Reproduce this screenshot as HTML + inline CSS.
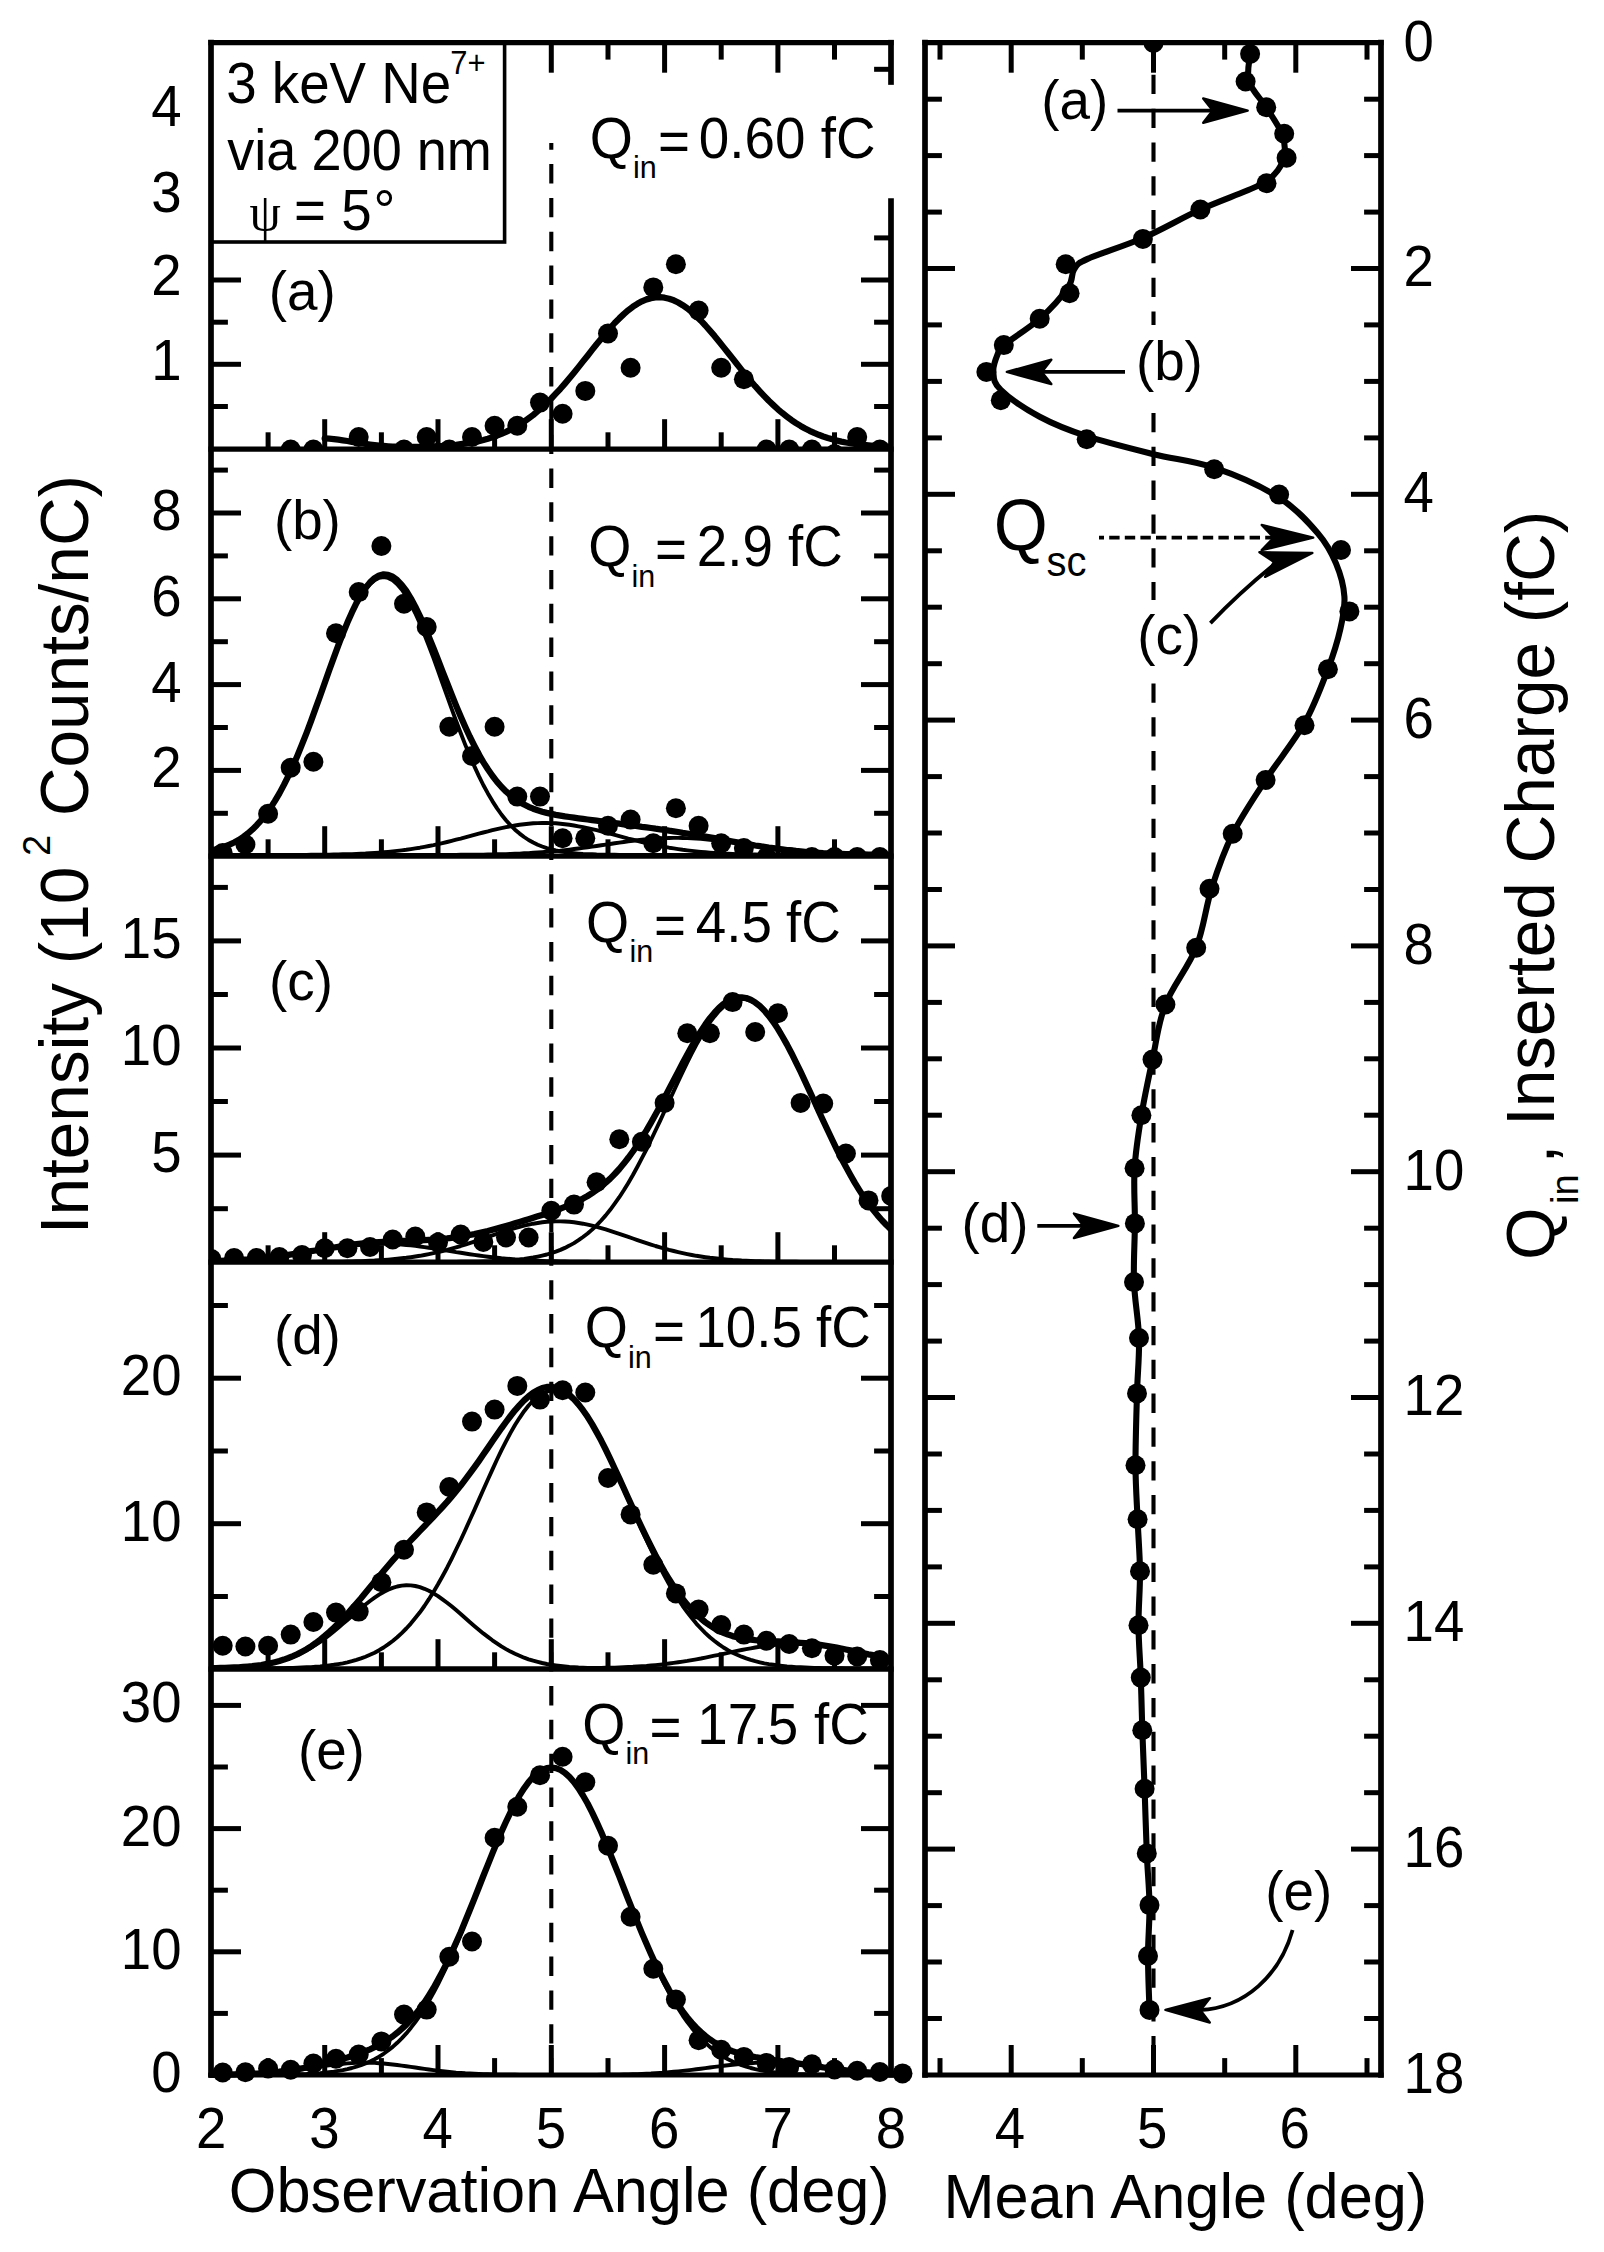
<!DOCTYPE html>
<html lang="en"><head><meta charset="utf-8"><title>Figure</title>
<style>html,body{margin:0;padding:0;background:#fff}svg{display:block}text{font-family:"Liberation Sans",Arial,Helvetica,sans-serif;fill:#000}.s{font-family:"Liberation Serif","DejaVu Serif",serif}</style></head><body>
<svg width="1604" height="2252" viewBox="0 0 1604 2252">
<rect width="1604" height="2252" fill="#fff"/>
<defs>
<clipPath id="cpa"><rect x="211" y="42.7" width="680" height="407.5"/></clipPath>
<clipPath id="cpb"><rect x="211" y="449.2" width="680" height="408"/></clipPath>
<clipPath id="cpc"><rect x="211" y="856.2" width="680" height="407"/></clipPath>
<clipPath id="cpd"><rect x="211" y="1262.2" width="680" height="408"/></clipPath>
<clipPath id="cpe"><rect x="181" y="1669.2" width="760" height="450"/></clipPath>
<clipPath id="cpr"><rect x="925" y="42.7" width="456" height="2032.3"/></clipPath>
</defs>
<g clip-path="url(#cpa)" fill="none" stroke="#000" stroke-linejoin="round" stroke-linecap="round">
<polyline stroke-width="6.3" points="324.7,438.4 329.2,438.7 333.8,439.1 338.3,439.7 342.8,440.3 347.4,441 351.9,441.8 356.4,442.5 361,443.2 365.5,443.9 370,444.5 374.6,445.1 379.1,445.6 383.6,446 388.1,446.3 392.7,446.6 397.2,446.7 401.7,446.9 406.3,446.9 410.8,447 415.3,446.9 419.9,446.9 424.4,446.8 428.9,446.6 433.5,446.5 438,446.2 442.5,446 447.1,445.6 451.6,445.2 456.1,444.8 460.7,444.2 465.2,443.6 469.7,442.9 474.3,442 478.8,441.1 483.3,440 487.9,438.7 492.4,437.3 496.9,435.7 501.4,433.9 506,431.9 510.5,429.7 515,427.2 519.6,424.6 524.1,421.6 528.6,418.4 533.2,415 537.7,411.2 542.2,407.2 546.8,403 551.3,398.5 555.8,393.7 560.4,388.8 564.9,383.6 569.4,378.2 574,372.7 578.5,367.1 583,361.4 587.6,355.7 592.1,349.9 596.6,344.2 601.2,338.7 605.7,333.2 610.2,328 614.7,323 619.3,318.4 623.8,314.1 628.3,310.2 632.9,306.7 637.4,303.8 641.9,301.3 646.5,299.4 651,298.1 655.5,297.4 660.1,297.2 664.6,297.7 669.1,298.7 673.7,300.3 678.2,302.5 682.7,305.2 687.3,308.4 691.8,312.1 696.3,316.2 700.9,320.7 705.4,325.5 709.9,330.6 714.5,335.9 719,341.4 723.5,347.1 728,352.8 732.6,358.5 737.1,364.3 741.6,369.9 746.2,375.5 750.7,380.9 755.2,386.2 759.8,391.3 764.3,396.1 768.8,400.8 773.4,405.1 777.9,409.3 782.4,413.1 787,416.7 791.5,420.1 796,423.1 800.6,425.9 805.1,428.5 809.6,430.8 814.2,432.9 818.7,434.8 823.2,436.5 827.8,438 832.3,439.3 836.8,440.5 841.3,441.6 845.9,442.5 850.4,443.2 854.9,443.9 859.5,444.5 864,445 868.5,445.4 873.1,445.8 877.6,446.1 882.1,446.4 886.7,446.6 891.2,446.8"/>
<g fill="#000" stroke="none">
<circle cx="290.7" cy="449.5" r="10.0"/>
<circle cx="313.4" cy="449.5" r="10.0"/>
<circle cx="358.7" cy="437" r="10.0"/>
<circle cx="404" cy="449.5" r="10.0"/>
<circle cx="426.7" cy="437" r="10.0"/>
<circle cx="449.3" cy="449.5" r="10.0"/>
<circle cx="472" cy="437" r="10.0"/>
<circle cx="494.6" cy="425.8" r="10.0"/>
<circle cx="517.3" cy="425.8" r="10.0"/>
<circle cx="540" cy="402.6" r="10.0"/>
<circle cx="562.6" cy="413.8" r="10.0"/>
<circle cx="585.3" cy="390.9" r="10.0"/>
<circle cx="608" cy="333.5" r="10.0"/>
<circle cx="630.6" cy="367.7" r="10.0"/>
<circle cx="653.3" cy="287.4" r="10.0"/>
<circle cx="675.9" cy="264.2" r="10.0"/>
<circle cx="698.6" cy="310.6" r="10.0"/>
<circle cx="721.2" cy="367.7" r="10.0"/>
<circle cx="743.9" cy="379.2" r="10.0"/>
<circle cx="766.6" cy="449.5" r="10.0"/>
<circle cx="789.2" cy="449.5" r="10.0"/>
<circle cx="811.9" cy="449.5" r="10.0"/>
<circle cx="834.5" cy="454" r="10.0"/>
<circle cx="857.2" cy="437" r="10.0"/>
<circle cx="879.9" cy="449.5" r="10.0"/>
</g></g>
<g clip-path="url(#cpb)" fill="none" stroke="#000" stroke-linejoin="round" stroke-linecap="round">
<polyline stroke-width="3.9" points="211.4,850.5 215.9,849.4 220.5,848.1 225,846.5 229.5,844.7 234.1,842.5 238.6,840 243.1,837 247.7,833.6 252.2,829.7 256.7,825.2 261.3,820.2 265.8,814.5 270.3,808.1 274.8,801.1 279.4,793.4 283.9,785 288.4,775.9 293,766.1 297.5,755.6 302,744.6 306.6,733 311.1,721 315.6,708.6 320.2,696 324.7,683.3 329.2,670.6 333.8,658.1 338.3,646 342.8,634.4 347.4,623.4 351.9,613.3 356.4,604.2 361,596.2 365.5,589.5 370,584.2 374.6,580.3 379.1,577.9 383.6,577.1 388.1,577.9 392.7,580.3 397.2,584.2 401.7,589.5 406.3,596.2 410.8,604.2 415.3,613.3 419.9,623.4 424.4,634.4 428.9,646 433.5,658.1 438,670.6 442.5,683.3 447.1,696 451.6,708.6 456.1,721 460.7,733 465.2,744.6 469.7,755.6 474.3,766.1 478.8,775.9 483.3,785 487.9,793.4 492.4,801.1 496.9,808.1 501.4,814.5 506,820.2 510.5,825.2 515,829.7 519.6,833.6 524.1,837 528.6,840 533.2,842.5 537.7,844.7 542.2,846.5 546.8,848.1 551.3,849.4 555.8,850.5 560.4,851.3 564.9,852.1 569.4,852.7 574,853.2 578.5,853.6 583,853.9 587.6,854.1 592.1,854.3 596.6,854.5 601.2,854.6 605.7,854.7 610.2,854.8 614.7,854.8 619.3,854.9 623.8,854.9 628.3,854.9 632.9,854.9 637.4,855 641.9,855 646.5,855 651,855 655.5,855 660.1,855 664.6,855 669.1,855 673.7,855 678.2,855 682.7,855 687.3,855 691.8,855 696.3,855 700.9,855 705.4,855 709.9,855 714.5,855 719,855 723.5,855 728,855 732.6,855 737.1,855 741.6,855 746.2,855 750.7,855 755.2,855 759.8,855 764.3,855 768.8,855 773.4,855 777.9,855 782.4,855 787,855 791.5,855 796,855 800.6,855 805.1,855 809.6,855 814.2,855 818.7,855 823.2,855 827.8,855 832.3,855 836.8,855 841.3,855 845.9,855 850.4,855 854.9,855 859.5,855 864,855 868.5,855 873.1,855 877.6,855 882.1,855 886.7,855 891.2,855"/>
<polyline stroke-width="3.9" points="211.4,855 215.9,855 220.5,855 225,855 229.5,855 234.1,855 238.6,855 243.1,855 247.7,855 252.2,855 256.7,855 261.3,855 265.8,855 270.3,855 274.8,855 279.4,855 283.9,854.9 288.4,854.9 293,854.9 297.5,854.9 302,854.9 306.6,854.9 311.1,854.8 315.6,854.8 320.2,854.7 324.7,854.7 329.2,854.6 333.8,854.5 338.3,854.4 342.8,854.3 347.4,854.2 351.9,854.1 356.4,853.9 361,853.7 365.5,853.5 370,853.2 374.6,852.9 379.1,852.6 383.6,852.3 388.1,851.9 392.7,851.4 397.2,850.9 401.7,850.4 406.3,849.8 410.8,849.1 415.3,848.4 419.9,847.7 424.4,846.9 428.9,846 433.5,845.1 438,844.1 442.5,843.1 447.1,842 451.6,840.9 456.1,839.7 460.7,838.6 465.2,837.4 469.7,836.2 474.3,834.9 478.8,833.7 483.3,832.5 487.9,831.4 492.4,830.2 496.9,829.1 501.4,828.1 506,827.2 510.5,826.3 515,825.5 519.6,824.8 524.1,824.2 528.6,823.7 533.2,823.3 537.7,823.1 542.2,823 546.8,823 551.3,823.1 555.8,823.3 560.4,823.7 564.9,824.2 569.4,824.8 574,825.5 578.5,826.3 583,827.2 587.6,828.1 592.1,829.1 596.6,830.2 601.2,831.4 605.7,832.5 610.2,833.7 614.7,834.9 619.3,836.2 623.8,837.4 628.3,838.6 632.9,839.7 637.4,840.9 641.9,842 646.5,843.1 651,844.1 655.5,845.1 660.1,846 664.6,846.9 669.1,847.7 673.7,848.4 678.2,849.1 682.7,849.8 687.3,850.4 691.8,850.9 696.3,851.4 700.9,851.9 705.4,852.3 709.9,852.6 714.5,852.9 719,853.2 723.5,853.5 728,853.7 732.6,853.9 737.1,854.1 741.6,854.2 746.2,854.3 750.7,854.4 755.2,854.5 759.8,854.6 764.3,854.7 768.8,854.7 773.4,854.8 777.9,854.8 782.4,854.9 787,854.9 791.5,854.9 796,854.9 800.6,854.9 805.1,854.9 809.6,855 814.2,855 818.7,855 823.2,855 827.8,855 832.3,855 836.8,855 841.3,855 845.9,855 850.4,855 854.9,855 859.5,855 864,855 868.5,855 873.1,855 877.6,855 882.1,855 886.7,855 891.2,855"/>
<polyline stroke-width="3.9" points="211.4,855 215.9,855 220.5,855 225,855 229.5,855 234.1,855 238.6,855 243.1,855 247.7,855 252.2,855 256.7,855 261.3,855 265.8,855 270.3,855 274.8,855 279.4,855 283.9,855 288.4,855 293,855 297.5,855 302,855 306.6,855 311.1,855 315.6,855 320.2,855 324.7,855 329.2,855 333.8,855 338.3,855 342.8,855 347.4,855 351.9,855 356.4,855 361,855 365.5,855 370,855 374.6,855 379.1,855 383.6,855 388.1,855 392.7,855 397.2,855 401.7,855 406.3,855 410.8,855 415.3,855 419.9,855 424.4,855 428.9,855 433.5,855 438,854.9 442.5,854.9 447.1,854.9 451.6,854.9 456.1,854.9 460.7,854.8 465.2,854.8 469.7,854.8 474.3,854.7 478.8,854.7 483.3,854.6 487.9,854.5 492.4,854.4 496.9,854.3 501.4,854.2 506,854.1 510.5,853.9 515,853.8 519.6,853.6 524.1,853.3 528.6,853.1 533.2,852.8 537.7,852.5 542.2,852.2 546.8,851.8 551.3,851.5 555.8,851 560.4,850.6 564.9,850.1 569.4,849.6 574,849 578.5,848.5 583,847.9 587.6,847.2 592.1,846.6 596.6,846 601.2,845.3 605.7,844.6 610.2,844 614.7,843.3 619.3,842.6 623.8,842 628.3,841.4 632.9,840.8 637.4,840.3 641.9,839.8 646.5,839.3 651,838.9 655.5,838.6 660.1,838.3 664.6,838.1 669.1,838 673.7,837.9 678.2,837.9 682.7,838 687.3,838.1 691.8,838.3 696.3,838.6 700.9,838.9 705.4,839.3 709.9,839.8 714.5,840.3 719,840.8 723.5,841.4 728,842 732.6,842.6 737.1,843.3 741.6,844 746.2,844.6 750.7,845.3 755.2,846 759.8,846.6 764.3,847.2 768.8,847.9 773.4,848.5 777.9,849 782.4,849.6 787,850.1 791.5,850.6 796,851 800.6,851.5 805.1,851.8 809.6,852.2 814.2,852.5 818.7,852.8 823.2,853.1 827.8,853.3 832.3,853.6 836.8,853.8 841.3,853.9 845.9,854.1 850.4,854.2 854.9,854.3 859.5,854.4 864,854.5 868.5,854.6 873.1,854.7 877.6,854.7 882.1,854.8 886.7,854.8 891.2,854.8"/>
<polyline stroke-width="6.3" points="211.4,850.5 215.9,849.4 220.5,848.1 225,846.5 229.5,844.7 234.1,842.5 238.6,840 243.1,837 247.7,833.6 252.2,829.7 256.7,825.2 261.3,820.1 265.8,814.5 270.3,808.1 274.8,801.1 279.4,793.4 283.9,784.9 288.4,775.8 293,766 297.5,755.5 302,744.4 306.6,732.8 311.1,720.8 315.6,708.4 320.2,695.7 324.7,683 329.2,670.2 333.8,657.7 338.3,645.4 342.8,633.7 347.4,622.6 351.9,612.4 356.4,603.1 361,594.9 365.5,588 370,582.4 374.6,578.2 379.1,575.5 383.6,574.4 388.1,574.8 392.7,576.7 397.2,580.1 401.7,584.9 406.3,591 410.8,598.3 415.3,606.7 419.9,616.1 424.4,626.2 428.9,637 433.5,648.2 438,659.6 442.5,671.3 447.1,682.9 451.6,694.4 456.1,705.6 460.7,716.4 465.2,726.7 469.7,736.5 474.3,745.7 478.8,754.3 483.3,762.1 487.9,769.3 492.4,775.8 496.9,781.6 501.4,786.8 506,791.4 510.5,795.4 515,798.9 519.6,801.9 524.1,804.5 528.6,806.8 533.2,808.7 537.7,810.3 542.2,811.7 546.8,812.9 551.3,813.9 555.8,814.8 560.4,815.6 564.9,816.4 569.4,817 574,817.7 578.5,818.3 583,818.9 587.6,819.5 592.1,820.1 596.6,820.7 601.2,821.3 605.7,821.9 610.2,822.5 614.7,823.1 619.3,823.7 623.8,824.3 628.3,824.9 632.9,825.5 637.4,826.1 641.9,826.8 646.5,827.4 651,828 655.5,828.7 660.1,829.3 664.6,830 669.1,830.7 673.7,831.3 678.2,832 682.7,832.8 687.3,833.5 691.8,834.3 696.3,835 700.9,835.8 705.4,836.6 709.9,837.4 714.5,838.2 719,839.1 723.5,839.9 728,840.7 732.6,841.5 737.1,842.4 741.6,843.2 746.2,844 750.7,844.7 755.2,845.5 759.8,846.2 764.3,846.9 768.8,847.6 773.4,848.2 777.9,848.9 782.4,849.4 787,850 791.5,850.5 796,851 800.6,851.4 805.1,851.8 809.6,852.2 814.2,852.5 818.7,852.8 823.2,853.1 827.8,853.3 832.3,853.6 836.8,853.7 841.3,853.9 845.9,854.1 850.4,854.2 854.9,854.3 859.5,854.4 864,854.5 868.5,854.6 873.1,854.7 877.6,854.7 882.1,854.8 886.7,854.8 891.2,854.8"/>
<g fill="#000" stroke="none">
<circle cx="222.7" cy="853" r="10.0"/>
<circle cx="245.4" cy="844.5" r="10.0"/>
<circle cx="268.1" cy="813.8" r="10.0"/>
<circle cx="290.7" cy="767.7" r="10.0"/>
<circle cx="313.4" cy="761.7" r="10.0"/>
<circle cx="336" cy="633.3" r="10.0"/>
<circle cx="358.7" cy="592.1" r="10.0"/>
<circle cx="381.4" cy="546" r="10.0"/>
<circle cx="404" cy="603.8" r="10.0"/>
<circle cx="426.7" cy="627" r="10.0"/>
<circle cx="449.3" cy="726.8" r="10.0"/>
<circle cx="472" cy="756" r="10.0"/>
<circle cx="494.6" cy="726.8" r="10.0"/>
<circle cx="517.3" cy="796.6" r="10.0"/>
<circle cx="540" cy="796.6" r="10.0"/>
<circle cx="562.6" cy="838.3" r="10.0"/>
<circle cx="585.3" cy="838.3" r="10.0"/>
<circle cx="608" cy="825.8" r="10.0"/>
<circle cx="630.6" cy="819.6" r="10.0"/>
<circle cx="653.3" cy="843.2" r="10.0"/>
<circle cx="675.9" cy="808.3" r="10.0"/>
<circle cx="698.6" cy="825.8" r="10.0"/>
<circle cx="721.2" cy="843.2" r="10.0"/>
<circle cx="743.9" cy="848" r="10.0"/>
<circle cx="766.6" cy="857" r="10.0"/>
<circle cx="789.2" cy="857" r="10.0"/>
<circle cx="811.9" cy="857" r="10.0"/>
<circle cx="834.5" cy="857" r="10.0"/>
<circle cx="857.2" cy="857" r="10.0"/>
<circle cx="879.9" cy="857" r="10.0"/>
</g></g>
<g clip-path="url(#cpc)" fill="none" stroke="#000" stroke-linejoin="round" stroke-linecap="round">
<polyline stroke-width="3.9" points="211.4,1262 215.9,1262 220.5,1262 225,1262 229.5,1262 234.1,1262 238.6,1262 243.1,1262 247.7,1262 252.2,1262 256.7,1262 261.3,1262 265.8,1262 270.3,1262 274.8,1262 279.4,1262 283.9,1262 288.4,1262 293,1262 297.5,1262 302,1262 306.6,1262 311.1,1262 315.6,1262 320.2,1262 324.7,1262 329.2,1262 333.8,1262 338.3,1262 342.8,1262 347.4,1262 351.9,1262 356.4,1262 361,1262 365.5,1262 370,1262 374.6,1262 379.1,1262 383.6,1262 388.1,1262 392.7,1262 397.2,1262 401.7,1262 406.3,1262 410.8,1262 415.3,1262 419.9,1262 424.4,1262 428.9,1262 433.5,1262 438,1262 442.5,1261.9 447.1,1261.9 451.6,1261.9 456.1,1261.9 460.7,1261.8 465.2,1261.8 469.7,1261.7 474.3,1261.7 478.8,1261.6 483.3,1261.5 487.9,1261.4 492.4,1261.2 496.9,1261 501.4,1260.8 506,1260.5 510.5,1260.2 515,1259.8 519.6,1259.4 524.1,1258.9 528.6,1258.2 533.2,1257.5 537.7,1256.6 542.2,1255.6 546.8,1254.5 551.3,1253.1 555.8,1251.6 560.4,1249.9 564.9,1247.9 569.4,1245.6 574,1243.1 578.5,1240.2 583,1237 587.6,1233.5 592.1,1229.6 596.6,1225.3 601.2,1220.5 605.7,1215.4 610.2,1209.8 614.7,1203.7 619.3,1197.2 623.8,1190.3 628.3,1182.9 632.9,1175 637.4,1166.8 641.9,1158.2 646.5,1149.3 651,1140 655.5,1130.5 660.1,1120.8 664.6,1111 669.1,1101.1 673.7,1091.2 678.2,1081.4 682.7,1071.8 687.3,1062.4 691.8,1053.4 696.3,1044.8 700.9,1036.7 705.4,1029.3 709.9,1022.4 714.5,1016.4 719,1011.1 723.5,1006.8 728,1003.3 732.6,1000.8 737.1,999.3 741.6,998.8 746.2,999.3 750.7,1000.8 755.2,1003.3 759.8,1006.8 764.3,1011.1 768.8,1016.4 773.4,1022.4 777.9,1029.3 782.4,1036.7 787,1044.8 791.5,1053.4 796,1062.4 800.6,1071.8 805.1,1081.4 809.6,1091.2 814.2,1101.1 818.7,1111 823.2,1120.8 827.8,1130.5 832.3,1140 836.8,1149.3 841.3,1158.2 845.9,1166.8 850.4,1175 854.9,1182.9 859.5,1190.3 864,1197.2 868.5,1203.7 873.1,1209.8 877.6,1215.4 882.1,1220.5 886.7,1225.3 891.2,1229.6"/>
<polyline stroke-width="3.9" points="211.4,1262 215.9,1262 220.5,1262 225,1262 229.5,1262 234.1,1262 238.6,1262 243.1,1262 247.7,1262 252.2,1262 256.7,1262 261.3,1262 265.8,1262 270.3,1262 274.8,1262 279.4,1262 283.9,1262 288.4,1262 293,1262 297.5,1261.9 302,1261.9 306.6,1261.9 311.1,1261.9 315.6,1261.9 320.2,1261.8 324.7,1261.8 329.2,1261.8 333.8,1261.7 338.3,1261.6 342.8,1261.6 347.4,1261.5 351.9,1261.4 356.4,1261.2 361,1261.1 365.5,1260.9 370,1260.7 374.6,1260.5 379.1,1260.2 383.6,1260 388.1,1259.6 392.7,1259.2 397.2,1258.8 401.7,1258.3 406.3,1257.8 410.8,1257.2 415.3,1256.5 419.9,1255.8 424.4,1255 428.9,1254.1 433.5,1253.1 438,1252.1 442.5,1251 447.1,1249.9 451.6,1248.6 456.1,1247.3 460.7,1246 465.2,1244.6 469.7,1243.1 474.3,1241.6 478.8,1240.1 483.3,1238.5 487.9,1236.9 492.4,1235.4 496.9,1233.8 501.4,1232.3 506,1230.9 510.5,1229.4 515,1228.1 519.6,1226.9 524.1,1225.7 528.6,1224.7 533.2,1223.7 537.7,1223 542.2,1222.3 546.8,1221.8 551.3,1221.5 555.8,1221.4 560.4,1221.4 564.9,1221.5 569.4,1221.8 574,1222.3 578.5,1223 583,1223.7 587.6,1224.7 592.1,1225.7 596.6,1226.9 601.2,1228.1 605.7,1229.4 610.2,1230.9 614.7,1232.3 619.3,1233.8 623.8,1235.4 628.3,1236.9 632.9,1238.5 637.4,1240.1 641.9,1241.6 646.5,1243.1 651,1244.6 655.5,1246 660.1,1247.3 664.6,1248.6 669.1,1249.9 673.7,1251 678.2,1252.1 682.7,1253.1 687.3,1254.1 691.8,1255 696.3,1255.8 700.9,1256.5 705.4,1257.2 709.9,1257.8 714.5,1258.3 719,1258.8 723.5,1259.2 728,1259.6 732.6,1260 737.1,1260.2 741.6,1260.5 746.2,1260.7 750.7,1260.9 755.2,1261.1 759.8,1261.2 764.3,1261.4 768.8,1261.5 773.4,1261.6 777.9,1261.6 782.4,1261.7 787,1261.8 791.5,1261.8 796,1261.8 800.6,1261.9 805.1,1261.9 809.6,1261.9 814.2,1261.9 818.7,1261.9 823.2,1262 827.8,1262 832.3,1262 836.8,1262 841.3,1262 845.9,1262 850.4,1262 854.9,1262 859.5,1262 864,1262 868.5,1262 873.1,1262 877.6,1262 882.1,1262 886.7,1262 891.2,1262"/>
<polyline stroke-width="3.9" points="211.4,1261.2 215.9,1261.1 220.5,1260.9 225,1260.7 229.5,1260.5 234.1,1260.3 238.6,1260 243.1,1259.7 247.7,1259.4 252.2,1259 256.7,1258.6 261.3,1258.2 265.8,1257.7 270.3,1257.2 274.8,1256.7 279.4,1256.1 283.9,1255.5 288.4,1254.9 293,1254.2 297.5,1253.5 302,1252.8 306.6,1252.1 311.1,1251.3 315.6,1250.6 320.2,1249.9 324.7,1249.1 329.2,1248.4 333.8,1247.8 338.3,1247.1 342.8,1246.5 347.4,1245.9 351.9,1245.4 356.4,1245 361,1244.6 365.5,1244.3 370,1244.1 374.6,1243.9 379.1,1243.8 383.6,1243.8 388.1,1243.9 392.7,1244.1 397.2,1244.3 401.7,1244.6 406.3,1245 410.8,1245.4 415.3,1245.9 419.9,1246.5 424.4,1247.1 428.9,1247.8 433.5,1248.4 438,1249.1 442.5,1249.9 447.1,1250.6 451.6,1251.3 456.1,1252.1 460.7,1252.8 465.2,1253.5 469.7,1254.2 474.3,1254.9 478.8,1255.5 483.3,1256.1 487.9,1256.7 492.4,1257.2 496.9,1257.7 501.4,1258.2 506,1258.6 510.5,1259 515,1259.4 519.6,1259.7 524.1,1260 528.6,1260.3 533.2,1260.5 537.7,1260.7 542.2,1260.9 546.8,1261.1 551.3,1261.2 555.8,1261.3 560.4,1261.4 564.9,1261.5 569.4,1261.6 574,1261.7 578.5,1261.7 583,1261.8 587.6,1261.8 592.1,1261.9 596.6,1261.9 601.2,1261.9 605.7,1261.9 610.2,1261.9 614.7,1261.9 619.3,1262 623.8,1262 628.3,1262 632.9,1262 637.4,1262 641.9,1262 646.5,1262 651,1262 655.5,1262 660.1,1262 664.6,1262 669.1,1262 673.7,1262 678.2,1262 682.7,1262 687.3,1262 691.8,1262 696.3,1262 700.9,1262 705.4,1262 709.9,1262 714.5,1262 719,1262 723.5,1262 728,1262 732.6,1262 737.1,1262 741.6,1262 746.2,1262 750.7,1262 755.2,1262 759.8,1262 764.3,1262 768.8,1262 773.4,1262 777.9,1262 782.4,1262 787,1262 791.5,1262 796,1262 800.6,1262 805.1,1262 809.6,1262 814.2,1262 818.7,1262 823.2,1262 827.8,1262 832.3,1262 836.8,1262 841.3,1262 845.9,1262 850.4,1262 854.9,1262 859.5,1262 864,1262 868.5,1262 873.1,1262 877.6,1262 882.1,1262 886.7,1262 891.2,1262"/>
<polyline stroke-width="6.3" points="211.4,1261.2 215.9,1261.1 220.5,1260.9 225,1260.7 229.5,1260.5 234.1,1260.3 238.6,1260 243.1,1259.7 247.7,1259.4 252.2,1259 256.7,1258.6 261.3,1258.2 265.8,1257.7 270.3,1257.2 274.8,1256.7 279.4,1256.1 283.9,1255.5 288.4,1254.8 293,1254.1 297.5,1253.4 302,1252.7 306.6,1252 311.1,1251.2 315.6,1250.5 320.2,1249.7 324.7,1249 329.2,1248.2 333.8,1247.5 338.3,1246.8 342.8,1246.1 347.4,1245.4 351.9,1244.8 356.4,1244.2 361,1243.7 365.5,1243.2 370,1242.8 374.6,1242.4 379.1,1242.1 383.6,1241.8 388.1,1241.5 392.7,1241.3 397.2,1241.1 401.7,1240.9 406.3,1240.8 410.8,1240.6 415.3,1240.4 419.9,1240.3 424.4,1240.1 428.9,1239.8 433.5,1239.6 438,1239.2 442.5,1238.8 447.1,1238.4 451.6,1237.9 456.1,1237.3 460.7,1236.6 465.2,1235.9 469.7,1235 474.3,1234.1 478.8,1233.1 483.3,1232.1 487.9,1231 492.4,1229.8 496.9,1228.6 501.4,1227.3 506,1226 510.5,1224.7 515,1223.3 519.6,1221.9 524.1,1220.6 528.6,1219.2 533.2,1217.7 537.7,1216.3 542.2,1214.9 546.8,1213.4 551.3,1211.9 555.8,1210.3 560.4,1208.7 564.9,1206.9 569.4,1205.1 574,1203.1 578.5,1200.9 583,1198.6 587.6,1196 592.1,1193.1 596.6,1190 601.2,1186.5 605.7,1182.7 610.2,1178.6 614.7,1174 619.3,1169 623.8,1163.6 628.3,1157.8 632.9,1151.5 637.4,1144.9 641.9,1137.8 646.5,1130.4 651,1122.6 655.5,1114.5 660.1,1106.2 664.6,1097.6 669.1,1089 673.7,1080.3 678.2,1071.6 682.7,1063 687.3,1054.5 691.8,1046.4 696.3,1038.6 700.9,1031.2 705.4,1024.4 709.9,1018.2 714.5,1012.7 719,1007.9 723.5,1004 728,1000.9 732.6,998.7 737.1,997.5 741.6,997.3 746.2,998 750.7,999.7 755.2,1002.4 759.8,1006 764.3,1010.5 768.8,1015.9 773.4,1022 777.9,1028.9 782.4,1036.5 787,1044.6 791.5,1053.2 796,1062.3 800.6,1071.7 805.1,1081.3 809.6,1091.1 814.2,1101 818.7,1111 823.2,1120.8 827.8,1130.5 832.3,1140 836.8,1149.3 841.3,1158.2 845.9,1166.8 850.4,1175 854.9,1182.9 859.5,1190.3 864,1197.2 868.5,1203.7 873.1,1209.8 877.6,1215.4 882.1,1220.5 886.7,1225.3 891.2,1229.6"/>
<g fill="#000" stroke="none">
<circle cx="211.4" cy="1259" r="10.0"/>
<circle cx="234.1" cy="1258" r="10.0"/>
<circle cx="256.7" cy="1258" r="10.0"/>
<circle cx="279.4" cy="1257" r="10.0"/>
<circle cx="302" cy="1255" r="10.0"/>
<circle cx="324.7" cy="1248.3" r="10.0"/>
<circle cx="347.4" cy="1248.3" r="10.0"/>
<circle cx="370" cy="1247" r="10.0"/>
<circle cx="392.7" cy="1239.5" r="10.0"/>
<circle cx="415.3" cy="1236.5" r="10.0"/>
<circle cx="438" cy="1242.5" r="10.0"/>
<circle cx="460.7" cy="1234.5" r="10.0"/>
<circle cx="483.3" cy="1242" r="10.0"/>
<circle cx="506" cy="1237.5" r="10.0"/>
<circle cx="528.6" cy="1237.5" r="10.0"/>
<circle cx="551.3" cy="1210.8" r="10.0"/>
<circle cx="574" cy="1204.6" r="10.0"/>
<circle cx="596.6" cy="1182.2" r="10.0"/>
<circle cx="619.3" cy="1139.3" r="10.0"/>
<circle cx="641.9" cy="1141.8" r="10.0"/>
<circle cx="664.6" cy="1102.9" r="10.0"/>
<circle cx="687.3" cy="1033.3" r="10.0"/>
<circle cx="709.9" cy="1033.3" r="10.0"/>
<circle cx="732.6" cy="1002.1" r="10.0"/>
<circle cx="755.2" cy="1032" r="10.0"/>
<circle cx="777.9" cy="1013.3" r="10.0"/>
<circle cx="800.6" cy="1102.9" r="10.0"/>
<circle cx="823.2" cy="1103.6" r="10.0"/>
<circle cx="845.9" cy="1153.5" r="10.0"/>
<circle cx="868.5" cy="1200.4" r="10.0"/>
<circle cx="891.2" cy="1195.9" r="10.0"/>
</g></g>
<g clip-path="url(#cpd)" fill="none" stroke="#000" stroke-linejoin="round" stroke-linecap="round">
<polyline stroke-width="3.9" points="211.4,1668.5 215.9,1668.5 220.5,1668.5 225,1668.5 229.5,1668.5 234.1,1668.5 238.6,1668.5 243.1,1668.4 247.7,1668.4 252.2,1668.4 256.7,1668.4 261.3,1668.4 265.8,1668.3 270.3,1668.3 274.8,1668.2 279.4,1668.2 283.9,1668.1 288.4,1668 293,1667.9 297.5,1667.7 302,1667.5 306.6,1667.3 311.1,1667.1 315.6,1666.7 320.2,1666.4 324.7,1665.9 329.2,1665.4 333.8,1664.8 338.3,1664.1 342.8,1663.3 347.4,1662.3 351.9,1661.2 356.4,1659.9 361,1658.4 365.5,1656.7 370,1654.8 374.6,1652.7 379.1,1650.2 383.6,1647.5 388.1,1644.4 392.7,1641 397.2,1637.3 401.7,1633.1 406.3,1628.5 410.8,1623.6 415.3,1618.1 419.9,1612.3 424.4,1606 428.9,1599.2 433.5,1591.9 438,1584.3 442.5,1576.2 447.1,1567.7 451.6,1558.8 456.1,1549.5 460.7,1540 465.2,1530.2 469.7,1520.2 474.3,1510.1 478.8,1499.9 483.3,1489.7 487.9,1479.5 492.4,1469.6 496.9,1459.8 501.4,1450.4 506,1441.4 510.5,1432.9 515,1425 519.6,1417.8 524.1,1411.2 528.6,1405.5 533.2,1400.6 537.7,1396.7 542.2,1393.7 546.8,1391.6 551.3,1390.6 555.8,1390.6 560.4,1391.6 564.9,1393.7 569.4,1396.7 574,1400.6 578.5,1405.5 583,1411.2 587.6,1417.8 592.1,1425 596.6,1432.9 601.2,1441.4 605.7,1450.4 610.2,1459.8 614.7,1469.6 619.3,1479.5 623.8,1489.7 628.3,1499.9 632.9,1510.1 637.4,1520.2 641.9,1530.2 646.5,1540 651,1549.5 655.5,1558.8 660.1,1567.7 664.6,1576.2 669.1,1584.3 673.7,1591.9 678.2,1599.2 682.7,1606 687.3,1612.3 691.8,1618.1 696.3,1623.6 700.9,1628.5 705.4,1633.1 709.9,1637.3 714.5,1641 719,1644.4 723.5,1647.5 728,1650.2 732.6,1652.7 737.1,1654.8 741.6,1656.7 746.2,1658.4 750.7,1659.9 755.2,1661.2 759.8,1662.3 764.3,1663.3 768.8,1664.1 773.4,1664.8 777.9,1665.4 782.4,1665.9 787,1666.4 791.5,1666.7 796,1667.1 800.6,1667.3 805.1,1667.5 809.6,1667.7 814.2,1667.9 818.7,1668 823.2,1668.1 827.8,1668.2 832.3,1668.2 836.8,1668.3 841.3,1668.3 845.9,1668.4 850.4,1668.4 854.9,1668.4 859.5,1668.4 864,1668.4 868.5,1668.5 873.1,1668.5 877.6,1668.5 882.1,1668.5 886.7,1668.5 891.2,1668.5"/>
<polyline stroke-width="3.9" points="211.4,1668.2 215.9,1668.2 220.5,1668.1 225,1667.9 229.5,1667.8 234.1,1667.6 238.6,1667.3 243.1,1667 247.7,1666.7 252.2,1666.2 256.7,1665.7 261.3,1665.1 265.8,1664.4 270.3,1663.5 274.8,1662.5 279.4,1661.3 283.9,1660 288.4,1658.5 293,1656.8 297.5,1654.9 302,1652.7 306.6,1650.3 311.1,1647.7 315.6,1644.9 320.2,1641.9 324.7,1638.6 329.2,1635.2 333.8,1631.5 338.3,1627.8 342.8,1623.9 347.4,1620 351.9,1616 356.4,1612.1 361,1608.2 365.5,1604.5 370,1601 374.6,1597.7 379.1,1594.7 383.6,1592 388.1,1589.7 392.7,1587.9 397.2,1586.5 401.7,1585.6 406.3,1585.3 410.8,1585.4 415.3,1586 419.9,1587.2 424.4,1588.8 428.9,1590.8 433.5,1593.3 438,1596.1 442.5,1599.3 447.1,1602.7 451.6,1606.3 456.1,1610.1 460.7,1614 465.2,1618 469.7,1622 474.3,1625.9 478.8,1629.7 483.3,1633.4 487.9,1636.9 492.4,1640.3 496.9,1643.4 501.4,1646.4 506,1649.1 510.5,1651.6 515,1653.8 519.6,1655.8 524.1,1657.7 528.6,1659.3 533.2,1660.7 537.7,1661.9 542.2,1663 546.8,1664 551.3,1664.8 555.8,1665.4 560.4,1666 564.9,1666.5 569.4,1666.9 574,1667.2 578.5,1667.5 583,1667.7 587.6,1667.9 592.1,1668 596.6,1668.1 601.2,1668.2 605.7,1668.3 610.2,1668.3 614.7,1668.4 619.3,1668.4 623.8,1668.4 628.3,1668.4 632.9,1668.5 637.4,1668.5 641.9,1668.5 646.5,1668.5 651,1668.5 655.5,1668.5 660.1,1668.5 664.6,1668.5 669.1,1668.5 673.7,1668.5 678.2,1668.5 682.7,1668.5 687.3,1668.5 691.8,1668.5 696.3,1668.5 700.9,1668.5 705.4,1668.5 709.9,1668.5 714.5,1668.5 719,1668.5 723.5,1668.5 728,1668.5 732.6,1668.5 737.1,1668.5 741.6,1668.5 746.2,1668.5 750.7,1668.5 755.2,1668.5 759.8,1668.5 764.3,1668.5 768.8,1668.5 773.4,1668.5 777.9,1668.5 782.4,1668.5 787,1668.5 791.5,1668.5 796,1668.5 800.6,1668.5 805.1,1668.5 809.6,1668.5 814.2,1668.5 818.7,1668.5 823.2,1668.5 827.8,1668.5 832.3,1668.5 836.8,1668.5 841.3,1668.5 845.9,1668.5 850.4,1668.5 854.9,1668.5 859.5,1668.5 864,1668.5 868.5,1668.5 873.1,1668.5 877.6,1668.5 882.1,1668.5 886.7,1668.5 891.2,1668.5"/>
<polyline stroke-width="3.9" points="211.4,1668.5 215.9,1668.5 220.5,1668.5 225,1668.5 229.5,1668.5 234.1,1668.5 238.6,1668.5 243.1,1668.5 247.7,1668.5 252.2,1668.5 256.7,1668.5 261.3,1668.5 265.8,1668.5 270.3,1668.5 274.8,1668.5 279.4,1668.5 283.9,1668.5 288.4,1668.5 293,1668.5 297.5,1668.5 302,1668.5 306.6,1668.5 311.1,1668.5 315.6,1668.5 320.2,1668.5 324.7,1668.5 329.2,1668.5 333.8,1668.5 338.3,1668.5 342.8,1668.5 347.4,1668.5 351.9,1668.5 356.4,1668.5 361,1668.5 365.5,1668.5 370,1668.5 374.6,1668.5 379.1,1668.5 383.6,1668.5 388.1,1668.5 392.7,1668.5 397.2,1668.5 401.7,1668.5 406.3,1668.5 410.8,1668.5 415.3,1668.5 419.9,1668.5 424.4,1668.5 428.9,1668.5 433.5,1668.5 438,1668.5 442.5,1668.5 447.1,1668.5 451.6,1668.5 456.1,1668.5 460.7,1668.5 465.2,1668.5 469.7,1668.5 474.3,1668.5 478.8,1668.5 483.3,1668.5 487.9,1668.5 492.4,1668.5 496.9,1668.5 501.4,1668.5 506,1668.5 510.5,1668.5 515,1668.5 519.6,1668.5 524.1,1668.5 528.6,1668.5 533.2,1668.5 537.7,1668.5 542.2,1668.5 546.8,1668.5 551.3,1668.4 555.8,1668.4 560.4,1668.4 564.9,1668.4 569.4,1668.4 574,1668.3 578.5,1668.3 583,1668.2 587.6,1668.2 592.1,1668.1 596.6,1668 601.2,1668 605.7,1667.8 610.2,1667.7 614.7,1667.6 619.3,1667.4 623.8,1667.2 628.3,1667 632.9,1666.8 637.4,1666.5 641.9,1666.2 646.5,1665.9 651,1665.5 655.5,1665.1 660.1,1664.6 664.6,1664.1 669.1,1663.5 673.7,1662.9 678.2,1662.3 682.7,1661.6 687.3,1660.9 691.8,1660.1 696.3,1659.3 700.9,1658.5 705.4,1657.6 709.9,1656.7 714.5,1655.7 719,1654.8 723.5,1653.8 728,1652.8 732.6,1651.9 737.1,1650.9 741.6,1650 746.2,1649.1 750.7,1648.3 755.2,1647.5 759.8,1646.8 764.3,1646.1 768.8,1645.5 773.4,1645 777.9,1644.6 782.4,1644.3 787,1644 791.5,1643.9 796,1643.9 800.6,1644 805.1,1644.1 809.6,1644.4 814.2,1644.8 818.7,1645.3 823.2,1645.8 827.8,1646.4 832.3,1647.1 836.8,1647.9 841.3,1648.7 845.9,1649.6 850.4,1650.5 854.9,1651.4 859.5,1652.4 864,1653.3 868.5,1654.3 873.1,1655.2 877.6,1656.2 882.1,1657.1 886.7,1658 891.2,1658.9"/>
<polyline stroke-width="6.3" points="211.4,1668.2 215.9,1668.1 220.5,1668 225,1667.9 229.5,1667.7 234.1,1667.5 238.6,1667.3 243.1,1667 247.7,1666.6 252.2,1666.2 256.7,1665.6 261.3,1665 265.8,1664.2 270.3,1663.3 274.8,1662.2 279.4,1661 283.9,1659.6 288.4,1658 293,1656.1 297.5,1654.1 302,1651.7 306.6,1649.2 311.1,1646.3 315.6,1643.2 320.2,1639.7 324.7,1636 329.2,1632.1 333.8,1627.8 338.3,1623.4 342.8,1618.7 347.4,1613.8 351.9,1608.7 356.4,1603.5 361,1598.2 365.5,1592.7 370,1587.3 374.6,1581.8 379.1,1576.4 383.6,1571 388.1,1565.7 392.7,1560.4 397.2,1555.3 401.7,1550.2 406.3,1545.3 410.8,1540.4 415.3,1535.7 419.9,1530.9 424.4,1526.2 428.9,1521.5 433.5,1516.7 438,1511.9 442.5,1507 447.1,1501.9 451.6,1496.6 456.1,1491.2 460.7,1485.6 465.2,1479.7 469.7,1473.7 474.3,1467.4 478.8,1461.1 483.3,1454.5 487.9,1447.9 492.4,1441.3 496.9,1434.8 501.4,1428.3 506,1422 510.5,1416 515,1410.3 519.6,1405.1 524.1,1400.4 528.6,1396.3 533.2,1392.8 537.7,1390.1 542.2,1388.1 546.8,1387 551.3,1386.8 555.8,1387.5 560.4,1389 564.9,1391.5 569.4,1394.9 574,1399.2 578.5,1404.3 583,1410.2 587.6,1416.8 592.1,1424.1 596.6,1432.1 601.2,1440.6 605.7,1449.5 610.2,1458.9 614.7,1468.5 619.3,1478.4 623.8,1488.3 628.3,1498.3 632.9,1508.3 637.4,1518.2 641.9,1527.9 646.5,1537.4 651,1546.5 655.5,1555.3 660.1,1563.8 664.6,1571.8 669.1,1579.3 673.7,1586.4 678.2,1593 682.7,1599.1 687.3,1604.7 691.8,1609.8 696.3,1614.4 700.9,1618.5 705.4,1622.2 709.9,1625.4 714.5,1628.3 719,1630.7 723.5,1632.8 728,1634.6 732.6,1636.1 737.1,1637.3 741.6,1638.3 746.2,1639.1 750.7,1639.7 755.2,1640.2 759.8,1640.6 764.3,1640.9 768.8,1641.1 773.4,1641.3 777.9,1641.5 782.4,1641.7 787,1641.9 791.5,1642.2 796,1642.4 800.6,1642.8 805.1,1643.2 809.6,1643.6 814.2,1644.2 818.7,1644.7 823.2,1645.4 827.8,1646.1 832.3,1646.9 836.8,1647.7 841.3,1648.5 845.9,1649.5 850.4,1650.4 854.9,1651.3 859.5,1652.3 864,1653.3 868.5,1654.3 873.1,1655.2 877.6,1656.2 882.1,1657.1 886.7,1658 891.2,1658.9"/>
<g fill="#000" stroke="none">
<circle cx="222.7" cy="1645.8" r="10.0"/>
<circle cx="245.4" cy="1646.5" r="10.0"/>
<circle cx="268.1" cy="1645.8" r="10.0"/>
<circle cx="290.7" cy="1634.6" r="10.0"/>
<circle cx="313.4" cy="1622" r="10.0"/>
<circle cx="336" cy="1612.6" r="10.0"/>
<circle cx="358.7" cy="1611.6" r="10.0"/>
<circle cx="381.4" cy="1582.2" r="10.0"/>
<circle cx="404" cy="1549.8" r="10.0"/>
<circle cx="426.7" cy="1512.4" r="10.0"/>
<circle cx="449.3" cy="1487" r="10.0"/>
<circle cx="472" cy="1421.6" r="10.0"/>
<circle cx="494.6" cy="1409.6" r="10.0"/>
<circle cx="517.3" cy="1385.9" r="10.0"/>
<circle cx="540" cy="1399.6" r="10.0"/>
<circle cx="562.6" cy="1390.2" r="10.0"/>
<circle cx="585.3" cy="1392.5" r="10.0"/>
<circle cx="608" cy="1478" r="10.0"/>
<circle cx="630.6" cy="1514.4" r="10.0"/>
<circle cx="653.3" cy="1564.7" r="10.0"/>
<circle cx="675.9" cy="1593.4" r="10.0"/>
<circle cx="698.6" cy="1609.6" r="10.0"/>
<circle cx="721.2" cy="1625" r="10.0"/>
<circle cx="743.9" cy="1634.6" r="10.0"/>
<circle cx="766.6" cy="1640.8" r="10.0"/>
<circle cx="789.2" cy="1644" r="10.0"/>
<circle cx="811.9" cy="1648.3" r="10.0"/>
<circle cx="834.5" cy="1655.7" r="10.0"/>
<circle cx="857.2" cy="1656.5" r="10.0"/>
<circle cx="879.9" cy="1660" r="10.0"/>
</g></g>
<g clip-path="url(#cpe)" fill="none" stroke="#000" stroke-linejoin="round" stroke-linecap="round">
<polyline stroke-width="3.9" points="211.4,2075 215.9,2075 220.5,2075 225,2075 229.5,2075 234.1,2075 238.6,2075 243.1,2075 247.7,2075 252.2,2074.9 256.7,2074.9 261.3,2074.9 265.8,2074.9 270.3,2074.8 274.8,2074.8 279.4,2074.7 283.9,2074.7 288.4,2074.6 293,2074.5 297.5,2074.3 302,2074.2 306.6,2074 311.1,2073.7 315.6,2073.4 320.2,2073.1 324.7,2072.7 329.2,2072.2 333.8,2071.6 338.3,2070.9 342.8,2070.1 347.4,2069.1 351.9,2068 356.4,2066.7 361,2065.2 365.5,2063.5 370,2061.5 374.6,2059.2 379.1,2056.7 383.6,2053.8 388.1,2050.5 392.7,2046.9 397.2,2042.8 401.7,2038.3 406.3,2033.4 410.8,2027.9 415.3,2022 419.9,2015.5 424.4,2008.5 428.9,2001 433.5,1992.9 438,1984.3 442.5,1975.2 447.1,1965.6 451.6,1955.5 456.1,1945.1 460.7,1934.2 465.2,1923.1 469.7,1911.7 474.3,1900.1 478.8,1888.5 483.3,1876.9 487.9,1865.3 492.4,1853.9 496.9,1842.9 501.4,1832.2 506,1822.1 510.5,1812.5 515,1803.6 519.6,1795.6 524.1,1788.4 528.6,1782.2 533.2,1777 537.7,1772.9 542.2,1769.9 546.8,1768.1 551.3,1767.5 555.8,1768.1 560.4,1769.9 564.9,1772.9 569.4,1777 574,1782.2 578.5,1788.4 583,1795.6 587.6,1803.6 592.1,1812.5 596.6,1822.1 601.2,1832.2 605.7,1842.9 610.2,1853.9 614.7,1865.3 619.3,1876.9 623.8,1888.5 628.3,1900.1 632.9,1911.7 637.4,1923.1 641.9,1934.2 646.5,1945.1 651,1955.5 655.5,1965.6 660.1,1975.2 664.6,1984.3 669.1,1992.9 673.7,2001 678.2,2008.5 682.7,2015.5 687.3,2022 691.8,2027.9 696.3,2033.4 700.9,2038.3 705.4,2042.8 709.9,2046.9 714.5,2050.5 719,2053.8 723.5,2056.7 728,2059.2 732.6,2061.5 737.1,2063.5 741.6,2065.2 746.2,2066.7 750.7,2068 755.2,2069.1 759.8,2070.1 764.3,2070.9 768.8,2071.6 773.4,2072.2 777.9,2072.7 782.4,2073.1 787,2073.4 791.5,2073.7 796,2074 800.6,2074.2 805.1,2074.3 809.6,2074.5 814.2,2074.6 818.7,2074.7 823.2,2074.7 827.8,2074.8 832.3,2074.8 836.8,2074.9 841.3,2074.9 845.9,2074.9 850.4,2074.9 854.9,2075 859.5,2075 864,2075 868.5,2075 873.1,2075 877.6,2075 882.1,2075 886.7,2075 891.2,2075"/>
<polyline stroke-width="3.9" points="211.4,2074.9 215.9,2074.8 220.5,2074.8 225,2074.7 229.5,2074.6 234.1,2074.5 238.6,2074.4 243.1,2074.3 247.7,2074.1 252.2,2073.9 256.7,2073.7 261.3,2073.4 265.8,2073.1 270.3,2072.8 274.8,2072.4 279.4,2071.9 283.9,2071.5 288.4,2070.9 293,2070.4 297.5,2069.8 302,2069.2 306.6,2068.5 311.1,2067.9 315.6,2067.2 320.2,2066.6 324.7,2065.9 329.2,2065.3 333.8,2064.7 338.3,2064.2 342.8,2063.7 347.4,2063.4 351.9,2063.1 356.4,2062.8 361,2062.7 365.5,2062.7 370,2062.8 374.6,2062.9 379.1,2063.2 383.6,2063.5 388.1,2064 392.7,2064.5 397.2,2065 401.7,2065.6 406.3,2066.2 410.8,2066.9 415.3,2067.5 419.9,2068.2 424.4,2068.9 428.9,2069.5 433.5,2070.1 438,2070.7 442.5,2071.2 447.1,2071.7 451.6,2072.2 456.1,2072.6 460.7,2072.9 465.2,2073.3 469.7,2073.5 474.3,2073.8 478.8,2074 483.3,2074.2 487.9,2074.3 492.4,2074.5 496.9,2074.6 501.4,2074.7 506,2074.7 510.5,2074.8 515,2074.8 519.6,2074.9 524.1,2074.9 528.6,2074.9 533.2,2074.9 537.7,2075 542.2,2075 546.8,2075 551.3,2075 555.8,2075 560.4,2075 564.9,2075 569.4,2075 574,2075 578.5,2075 583,2075 587.6,2075 592.1,2075 596.6,2075 601.2,2075 605.7,2075 610.2,2075 614.7,2075 619.3,2075 623.8,2075 628.3,2075 632.9,2075 637.4,2075 641.9,2075 646.5,2075 651,2075 655.5,2075 660.1,2075 664.6,2075 669.1,2075 673.7,2075 678.2,2075 682.7,2075 687.3,2075 691.8,2075 696.3,2075 700.9,2075 705.4,2075 709.9,2075 714.5,2075 719,2075 723.5,2075 728,2075 732.6,2075 737.1,2075 741.6,2075 746.2,2075 750.7,2075 755.2,2075 759.8,2075 764.3,2075 768.8,2075 773.4,2075 777.9,2075 782.4,2075 787,2075 791.5,2075 796,2075 800.6,2075 805.1,2075 809.6,2075 814.2,2075 818.7,2075 823.2,2075 827.8,2075 832.3,2075 836.8,2075 841.3,2075 845.9,2075 850.4,2075 854.9,2075 859.5,2075 864,2075 868.5,2075 873.1,2075 877.6,2075 882.1,2075 886.7,2075 891.2,2075"/>
<polyline stroke-width="3.9" points="211.4,2075 215.9,2075 220.5,2075 225,2075 229.5,2075 234.1,2075 238.6,2075 243.1,2075 247.7,2075 252.2,2075 256.7,2075 261.3,2075 265.8,2075 270.3,2075 274.8,2075 279.4,2075 283.9,2075 288.4,2075 293,2075 297.5,2075 302,2075 306.6,2075 311.1,2075 315.6,2075 320.2,2075 324.7,2075 329.2,2075 333.8,2075 338.3,2075 342.8,2075 347.4,2075 351.9,2075 356.4,2075 361,2075 365.5,2075 370,2075 374.6,2075 379.1,2075 383.6,2075 388.1,2075 392.7,2075 397.2,2075 401.7,2075 406.3,2075 410.8,2075 415.3,2075 419.9,2075 424.4,2075 428.9,2075 433.5,2075 438,2075 442.5,2075 447.1,2075 451.6,2075 456.1,2075 460.7,2075 465.2,2075 469.7,2075 474.3,2075 478.8,2075 483.3,2075 487.9,2075 492.4,2075 496.9,2075 501.4,2075 506,2075 510.5,2075 515,2075 519.6,2075 524.1,2075 528.6,2075 533.2,2075 537.7,2075 542.2,2075 546.8,2075 551.3,2075 555.8,2075 560.4,2075 564.9,2075 569.4,2075 574,2075 578.5,2075 583,2074.9 587.6,2074.9 592.1,2074.9 596.6,2074.9 601.2,2074.8 605.7,2074.8 610.2,2074.7 614.7,2074.7 619.3,2074.6 623.8,2074.5 628.3,2074.4 632.9,2074.2 637.4,2074.1 641.9,2073.9 646.5,2073.7 651,2073.5 655.5,2073.2 660.1,2072.9 664.6,2072.6 669.1,2072.2 673.7,2071.8 678.2,2071.4 682.7,2070.9 687.3,2070.4 691.8,2069.9 696.3,2069.3 700.9,2068.7 705.4,2068.1 709.9,2067.5 714.5,2066.9 719,2066.4 723.5,2065.8 728,2065.2 732.6,2064.7 737.1,2064.3 741.6,2063.8 746.2,2063.5 750.7,2063.2 755.2,2062.9 759.8,2062.8 764.3,2062.7 768.8,2062.7 773.4,2062.8 777.9,2062.9 782.4,2063.2 787,2063.5 791.5,2063.8 796,2064.3 800.6,2064.7 805.1,2065.2 809.6,2065.8 814.2,2066.4 818.7,2066.9 823.2,2067.5 827.8,2068.1 832.3,2068.7 836.8,2069.3 841.3,2069.9 845.9,2070.4 850.4,2070.9 854.9,2071.4 859.5,2071.8 864,2072.2 868.5,2072.6 873.1,2072.9 877.6,2073.2 882.1,2073.5 886.7,2073.7 891.2,2073.9"/>
<polyline stroke-width="6.3" points="211.4,2074.9 215.9,2074.8 220.5,2074.8 225,2074.7 229.5,2074.6 234.1,2074.5 238.6,2074.4 243.1,2074.2 247.7,2074.1 252.2,2073.8 256.7,2073.6 261.3,2073.3 265.8,2073 270.3,2072.6 274.8,2072.2 279.4,2071.7 283.9,2071.1 288.4,2070.5 293,2069.8 297.5,2069.1 302,2068.3 306.6,2067.5 311.1,2066.6 315.6,2065.6 320.2,2064.6 324.7,2063.6 329.2,2062.5 333.8,2061.3 338.3,2060.1 342.8,2058.8 347.4,2057.5 351.9,2056.1 356.4,2054.5 361,2052.9 365.5,2051.2 370,2049.3 374.6,2047.2 379.1,2044.9 383.6,2042.3 388.1,2039.5 392.7,2036.4 397.2,2032.8 401.7,2028.9 406.3,2024.6 410.8,2019.8 415.3,2014.5 419.9,2008.7 424.4,2002.4 428.9,1995.4 433.5,1988 438,1979.9 442.5,1971.4 447.1,1962.3 451.6,1952.7 456.1,1942.6 460.7,1932.2 465.2,1921.3 469.7,1910.2 474.3,1898.9 478.8,1887.5 483.3,1876 487.9,1864.6 492.4,1853.4 496.9,1842.5 501.4,1831.9 506,1821.8 510.5,1812.3 515,1803.5 519.6,1795.4 524.1,1788.3 528.6,1782.1 533.2,1776.9 537.7,1772.8 542.2,1769.9 546.8,1768.1 551.3,1767.5 555.8,1768.1 560.4,1769.9 564.9,1772.8 569.4,1776.9 574,1782.1 578.5,1788.3 583,1795.5 587.6,1803.5 592.1,1812.4 596.6,1821.9 601.2,1832 605.7,1842.7 610.2,1853.7 614.7,1865 619.3,1876.4 623.8,1888 628.3,1899.5 632.9,1910.9 637.4,1922.2 641.9,1933.1 646.5,1943.8 651,1954 655.5,1963.8 660.1,1973.1 664.6,1981.8 669.1,1990.1 673.7,1997.8 678.2,2004.9 682.7,2011.4 687.3,2017.4 691.8,2022.8 696.3,2027.7 700.9,2032.1 705.4,2036 709.9,2039.4 714.5,2042.5 719,2045.1 723.5,2047.5 728,2049.5 732.6,2051.2 737.1,2052.7 741.6,2054 746.2,2055.2 750.7,2056.2 755.2,2057.1 759.8,2057.9 764.3,2058.6 768.8,2059.3 773.4,2060 777.9,2060.6 782.4,2061.3 787,2061.9 791.5,2062.6 796,2063.2 800.6,2063.9 805.1,2064.6 809.6,2065.2 814.2,2065.9 818.7,2066.6 823.2,2067.3 827.8,2067.9 832.3,2068.6 836.8,2069.2 841.3,2069.7 845.9,2070.3 850.4,2070.8 854.9,2071.3 859.5,2071.8 864,2072.2 868.5,2072.5 873.1,2072.9 877.6,2073.2 882.1,2073.5 886.7,2073.7 891.2,2073.9"/>
<g fill="#000" stroke="none">
<circle cx="222.7" cy="2072.5" r="10.0"/>
<circle cx="245.4" cy="2072.2" r="10.0"/>
<circle cx="268.1" cy="2068.5" r="10.0"/>
<circle cx="290.7" cy="2069.7" r="10.0"/>
<circle cx="313.4" cy="2063.5" r="10.0"/>
<circle cx="336" cy="2058.8" r="10.0"/>
<circle cx="358.7" cy="2054.5" r="10.0"/>
<circle cx="381.4" cy="2041.5" r="10.0"/>
<circle cx="404" cy="2014.6" r="10.0"/>
<circle cx="426.7" cy="2009.6" r="10.0"/>
<circle cx="449.3" cy="1956.8" r="10.0"/>
<circle cx="472" cy="1941.5" r="10.0"/>
<circle cx="494.6" cy="1837.8" r="10.0"/>
<circle cx="517.3" cy="1806.8" r="10.0"/>
<circle cx="540" cy="1775.2" r="10.0"/>
<circle cx="562.6" cy="1756.8" r="10.0"/>
<circle cx="585.3" cy="1782.2" r="10.0"/>
<circle cx="608" cy="1845.8" r="10.0"/>
<circle cx="630.6" cy="1916.8" r="10.0"/>
<circle cx="653.3" cy="1968.7" r="10.0"/>
<circle cx="675.9" cy="1999.6" r="10.0"/>
<circle cx="698.6" cy="2040.2" r="10.0"/>
<circle cx="721.2" cy="2049.8" r="10.0"/>
<circle cx="743.9" cy="2056.9" r="10.0"/>
<circle cx="766.6" cy="2062.9" r="10.0"/>
<circle cx="789.2" cy="2066.9" r="10.0"/>
<circle cx="811.9" cy="2064.2" r="10.0"/>
<circle cx="834.5" cy="2069.5" r="10.0"/>
<circle cx="857.2" cy="2070.8" r="10.0"/>
<circle cx="879.9" cy="2072" r="10.0"/>
<circle cx="902.5" cy="2073.4" r="10.0"/>
</g></g>
<line x1="551.3" y1="143" x2="551.3" y2="2075" stroke="#000" stroke-width="4.1" stroke-dasharray="19.4 14.42" stroke-dashoffset="12.7"/>
<g stroke="#000" stroke-width="5.0" stroke-linecap="butt">
<line x1="211" y1="364.3" x2="241" y2="364.3"/>
<line x1="891" y1="364.3" x2="861" y2="364.3"/>
<line x1="211" y1="280" x2="241" y2="280"/>
<line x1="891" y1="280" x2="861" y2="280"/>
<line x1="211" y1="195.7" x2="241" y2="195.7"/>
<line x1="211" y1="111.4" x2="241" y2="111.4"/>
<line x1="211" y1="406.5" x2="227.9" y2="406.5"/>
<line x1="891" y1="406.5" x2="874.1" y2="406.5"/>
<line x1="211" y1="322.2" x2="227.9" y2="322.2"/>
<line x1="891" y1="322.2" x2="874.1" y2="322.2"/>
<line x1="211" y1="237.9" x2="227.9" y2="237.9"/>
<line x1="891" y1="237.9" x2="874.1" y2="237.9"/>
<line x1="211" y1="153.6" x2="227.9" y2="153.6"/>
<line x1="211" y1="69.3" x2="227.9" y2="69.3"/>
<line x1="891" y1="69.3" x2="874.1" y2="69.3"/>
<line x1="268.1" y1="449.2" x2="268.1" y2="432.3"/>
<line x1="324.7" y1="449.2" x2="324.7" y2="419.2"/>
<line x1="381.4" y1="449.2" x2="381.4" y2="432.3"/>
<line x1="438" y1="449.2" x2="438" y2="419.2"/>
<line x1="494.6" y1="449.2" x2="494.6" y2="432.3"/>
<line x1="551.3" y1="449.2" x2="551.3" y2="419.2"/>
<line x1="608" y1="449.2" x2="608" y2="432.3"/>
<line x1="664.6" y1="449.2" x2="664.6" y2="419.2"/>
<line x1="721.2" y1="449.2" x2="721.2" y2="432.3"/>
<line x1="777.9" y1="449.2" x2="777.9" y2="419.2"/>
<line x1="834.5" y1="449.2" x2="834.5" y2="432.3"/>
<line x1="211" y1="770.4" x2="241" y2="770.4"/>
<line x1="891" y1="770.4" x2="861" y2="770.4"/>
<line x1="211" y1="684.6" x2="241" y2="684.6"/>
<line x1="891" y1="684.6" x2="861" y2="684.6"/>
<line x1="211" y1="598.8" x2="241" y2="598.8"/>
<line x1="891" y1="598.8" x2="861" y2="598.8"/>
<line x1="211" y1="513" x2="241" y2="513"/>
<line x1="891" y1="513" x2="861" y2="513"/>
<line x1="211" y1="813.3" x2="227.9" y2="813.3"/>
<line x1="891" y1="813.3" x2="874.1" y2="813.3"/>
<line x1="211" y1="727.5" x2="227.9" y2="727.5"/>
<line x1="891" y1="727.5" x2="874.1" y2="727.5"/>
<line x1="211" y1="641.7" x2="227.9" y2="641.7"/>
<line x1="891" y1="641.7" x2="874.1" y2="641.7"/>
<line x1="211" y1="555.9" x2="227.9" y2="555.9"/>
<line x1="891" y1="555.9" x2="874.1" y2="555.9"/>
<line x1="211" y1="470.1" x2="227.9" y2="470.1"/>
<line x1="891" y1="470.1" x2="874.1" y2="470.1"/>
<line x1="268.1" y1="856.2" x2="268.1" y2="839.3"/>
<line x1="324.7" y1="856.2" x2="324.7" y2="826.2"/>
<line x1="381.4" y1="856.2" x2="381.4" y2="839.3"/>
<line x1="438" y1="856.2" x2="438" y2="826.2"/>
<line x1="494.6" y1="856.2" x2="494.6" y2="839.3"/>
<line x1="551.3" y1="856.2" x2="551.3" y2="826.2"/>
<line x1="608" y1="856.2" x2="608" y2="839.3"/>
<line x1="664.6" y1="856.2" x2="664.6" y2="826.2"/>
<line x1="721.2" y1="856.2" x2="721.2" y2="839.3"/>
<line x1="777.9" y1="856.2" x2="777.9" y2="826.2"/>
<line x1="834.5" y1="856.2" x2="834.5" y2="839.3"/>
<line x1="211" y1="1155.1" x2="241" y2="1155.1"/>
<line x1="891" y1="1155.1" x2="861" y2="1155.1"/>
<line x1="211" y1="1048" x2="241" y2="1048"/>
<line x1="891" y1="1048" x2="861" y2="1048"/>
<line x1="211" y1="940.9" x2="241" y2="940.9"/>
<line x1="891" y1="940.9" x2="861" y2="940.9"/>
<line x1="211" y1="1208.7" x2="227.9" y2="1208.7"/>
<line x1="891" y1="1208.7" x2="874.1" y2="1208.7"/>
<line x1="211" y1="1101.5" x2="227.9" y2="1101.5"/>
<line x1="891" y1="1101.5" x2="874.1" y2="1101.5"/>
<line x1="211" y1="994.5" x2="227.9" y2="994.5"/>
<line x1="891" y1="994.5" x2="874.1" y2="994.5"/>
<line x1="211" y1="887.4" x2="227.9" y2="887.4"/>
<line x1="891" y1="887.4" x2="874.1" y2="887.4"/>
<line x1="268.1" y1="1262.2" x2="268.1" y2="1245.3"/>
<line x1="324.7" y1="1262.2" x2="324.7" y2="1232.2"/>
<line x1="381.4" y1="1262.2" x2="381.4" y2="1245.3"/>
<line x1="438" y1="1262.2" x2="438" y2="1232.2"/>
<line x1="494.6" y1="1262.2" x2="494.6" y2="1245.3"/>
<line x1="551.3" y1="1262.2" x2="551.3" y2="1232.2"/>
<line x1="608" y1="1262.2" x2="608" y2="1245.3"/>
<line x1="664.6" y1="1262.2" x2="664.6" y2="1232.2"/>
<line x1="721.2" y1="1262.2" x2="721.2" y2="1245.3"/>
<line x1="777.9" y1="1262.2" x2="777.9" y2="1232.2"/>
<line x1="834.5" y1="1262.2" x2="834.5" y2="1245.3"/>
<line x1="211" y1="1523.7" x2="241" y2="1523.7"/>
<line x1="891" y1="1523.7" x2="861" y2="1523.7"/>
<line x1="211" y1="1378.2" x2="241" y2="1378.2"/>
<line x1="891" y1="1378.2" x2="861" y2="1378.2"/>
<line x1="211" y1="1596.5" x2="227.9" y2="1596.5"/>
<line x1="891" y1="1596.5" x2="874.1" y2="1596.5"/>
<line x1="211" y1="1451" x2="227.9" y2="1451"/>
<line x1="891" y1="1451" x2="874.1" y2="1451"/>
<line x1="211" y1="1305.5" x2="227.9" y2="1305.5"/>
<line x1="891" y1="1305.5" x2="874.1" y2="1305.5"/>
<line x1="268.1" y1="1669.2" x2="268.1" y2="1652.3"/>
<line x1="324.7" y1="1669.2" x2="324.7" y2="1639.2"/>
<line x1="381.4" y1="1669.2" x2="381.4" y2="1652.3"/>
<line x1="438" y1="1669.2" x2="438" y2="1639.2"/>
<line x1="494.6" y1="1669.2" x2="494.6" y2="1652.3"/>
<line x1="551.3" y1="1669.2" x2="551.3" y2="1639.2"/>
<line x1="608" y1="1669.2" x2="608" y2="1652.3"/>
<line x1="664.6" y1="1669.2" x2="664.6" y2="1639.2"/>
<line x1="721.2" y1="1669.2" x2="721.2" y2="1652.3"/>
<line x1="777.9" y1="1669.2" x2="777.9" y2="1639.2"/>
<line x1="834.5" y1="1669.2" x2="834.5" y2="1652.3"/>
<line x1="211" y1="1951.8" x2="241" y2="1951.8"/>
<line x1="891" y1="1951.8" x2="861" y2="1951.8"/>
<line x1="211" y1="1828.6" x2="241" y2="1828.6"/>
<line x1="891" y1="1828.6" x2="861" y2="1828.6"/>
<line x1="211" y1="1705.4" x2="241" y2="1705.4"/>
<line x1="891" y1="1705.4" x2="861" y2="1705.4"/>
<line x1="211" y1="2013.4" x2="227.9" y2="2013.4"/>
<line x1="891" y1="2013.4" x2="874.1" y2="2013.4"/>
<line x1="211" y1="1890.2" x2="227.9" y2="1890.2"/>
<line x1="891" y1="1890.2" x2="874.1" y2="1890.2"/>
<line x1="211" y1="1767" x2="227.9" y2="1767"/>
<line x1="891" y1="1767" x2="874.1" y2="1767"/>
<line x1="268.1" y1="2075" x2="268.1" y2="2058.1"/>
<line x1="324.7" y1="2075" x2="324.7" y2="2045"/>
<line x1="381.4" y1="2075" x2="381.4" y2="2058.1"/>
<line x1="438" y1="2075" x2="438" y2="2045"/>
<line x1="494.6" y1="2075" x2="494.6" y2="2058.1"/>
<line x1="551.3" y1="2075" x2="551.3" y2="2045"/>
<line x1="608" y1="2075" x2="608" y2="2058.1"/>
<line x1="664.6" y1="2075" x2="664.6" y2="2045"/>
<line x1="721.2" y1="2075" x2="721.2" y2="2058.1"/>
<line x1="777.9" y1="2075" x2="777.9" y2="2045"/>
<line x1="834.5" y1="2075" x2="834.5" y2="2058.1"/>
<line x1="268.1" y1="42.7" x2="268.1" y2="59.6"/>
<line x1="324.7" y1="42.7" x2="324.7" y2="72.7"/>
<line x1="381.4" y1="42.7" x2="381.4" y2="59.6"/>
<line x1="438" y1="42.7" x2="438" y2="72.7"/>
<line x1="494.6" y1="42.7" x2="494.6" y2="59.6"/>
<line x1="551.3" y1="42.7" x2="551.3" y2="72.7"/>
<line x1="608" y1="42.7" x2="608" y2="59.6"/>
<line x1="664.6" y1="42.7" x2="664.6" y2="72.7"/>
<line x1="721.2" y1="42.7" x2="721.2" y2="59.6"/>
<line x1="777.9" y1="42.7" x2="777.9" y2="72.7"/>
<line x1="834.5" y1="42.7" x2="834.5" y2="59.6"/>
</g>
<rect x="211" y="42.7" width="293.6" height="199.3" fill="#fff" stroke="#000" stroke-width="3.6"/>
<g stroke="#000" stroke-width="5.7" stroke-linecap="square" fill="none">
<line x1="211" y1="42.7" x2="211" y2="2075"/>
<line x1="891" y1="42.7" x2="891" y2="82"/>
<line x1="891" y1="201" x2="891" y2="2075"/>
<line x1="211" y1="42.7" x2="891" y2="42.7" stroke-width="5.2"/>
<line x1="211" y1="2075" x2="891" y2="2075" stroke-width="5.2"/>
<line x1="211" y1="449.2" x2="891" y2="449.2" stroke-width="5.2"/>
<line x1="211" y1="856.2" x2="891" y2="856.2" stroke-width="5.2"/>
<line x1="211" y1="1262.2" x2="891" y2="1262.2" stroke-width="5.2"/>
<line x1="211" y1="1669.2" x2="891" y2="1669.2" stroke-width="5.2"/>
</g>
<text transform="translate(226.2,103.4) scale(1,1.045)" font-size="54.7">3 keV Ne<tspan font-size="31" dy="-27.8" dx="-1">7+</tspan></text>
<text transform="translate(227.3,170.4) scale(1,1.045)" font-size="54.1">via 200 nm</text>
<text transform="translate(249.5,229.7) scale(1,1.045)" font-size="54.7"><tspan class="s" font-size="50">ψ</tspan><tspan dx="-2"> = 5</tspan><tspan dx="2">°</tspan></text>
<text transform="translate(268.8,310.2)" font-size="54.8">(a)</text>
<text transform="translate(273.9,538.5)" font-size="54.8">(b)</text>
<text transform="translate(269,1000.1)" font-size="54.8">(c)</text>
<text transform="translate(273.9,1353.7)" font-size="54.8">(d)</text>
<text transform="translate(297.9,1768.7)" font-size="54.8">(e)</text>
<text transform="translate(0,157.9) scale(1,1.045)" font-size="54.8"><tspan x="589.7" font-size="55.5">Q</tspan><tspan x="633" dy="19.7" font-size="30.5">in</tspan><tspan x="658" dy="-16.4">=</tspan><tspan x="698.8" dy="-3.3">0.60</tspan><tspan x="820.8">fC</tspan></text>
<text transform="translate(0,566) scale(1,1.045)" font-size="54.8"><tspan x="588.2" font-size="55.5">Q</tspan><tspan x="631.5" dy="19.7" font-size="30.5">in</tspan><tspan x="655" dy="-16.4">=</tspan><tspan x="696.8" dy="-3.3">2.9</tspan><tspan x="788.0">fC</tspan></text>
<text transform="translate(0,941.8) scale(1,1.045)" font-size="54.8"><tspan x="586.0" font-size="55.5">Q</tspan><tspan x="629.4" dy="19.7" font-size="30.5">in</tspan><tspan x="654" dy="-16.4">=</tspan><tspan x="695.8" dy="-3.3">4.5</tspan><tspan x="786.0">fC</tspan></text>
<text transform="translate(0,1347.3) scale(1,1.045)" font-size="54.8"><tspan x="584.8" font-size="55.5">Q</tspan><tspan x="628" dy="19.7" font-size="30.5">in</tspan><tspan x="653" dy="-16.4">=</tspan><tspan x="695.4" dy="-3.3">10.5</tspan><tspan x="816.0">fC</tspan></text>
<text transform="translate(0,1743.5) scale(1,1.045)" font-size="54.8"><tspan x="582.3" font-size="55.5">Q</tspan><tspan x="625.5" dy="19.7" font-size="30.5">in</tspan><tspan x="649.6" dy="-16.4">=</tspan><tspan x="697.2" dy="-3.3">17<tspan dx="-5.5">.5</tspan></tspan><tspan x="814.0">fC</tspan></text>
<text transform="translate(181.5,380.2) scale(1,1.045)" font-size="54.6" text-anchor="end">1</text>
<text transform="translate(181.5,295.4) scale(1,1.045)" font-size="54.6" text-anchor="end">2</text>
<text transform="translate(181.5,212) scale(1,1.045)" font-size="54.6" text-anchor="end">3</text>
<text transform="translate(181.5,126) scale(1,1.045)" font-size="54.6" text-anchor="end">4</text>
<text transform="translate(181.5,787.4) scale(1,1.045)" font-size="54.6" text-anchor="end">2</text>
<text transform="translate(181.5,701.6) scale(1,1.045)" font-size="54.6" text-anchor="end">4</text>
<text transform="translate(181.5,615.8) scale(1,1.045)" font-size="54.6" text-anchor="end">6</text>
<text transform="translate(181.5,530) scale(1,1.045)" font-size="54.6" text-anchor="end">8</text>
<text transform="translate(181.5,1172.1) scale(1,1.045)" font-size="54.6" text-anchor="end">5</text>
<text transform="translate(181.5,1065) scale(1,1.045)" font-size="54.6" text-anchor="end">10</text>
<text transform="translate(181.5,957.9) scale(1,1.045)" font-size="54.6" text-anchor="end">15</text>
<text transform="translate(181.5,1540.7) scale(1,1.045)" font-size="54.6" text-anchor="end">10</text>
<text transform="translate(181.5,1395.2) scale(1,1.045)" font-size="54.6" text-anchor="end">20</text>
<text transform="translate(181.5,2092) scale(1,1.045)" font-size="54.6" text-anchor="end">0</text>
<text transform="translate(181.5,1968.8) scale(1,1.045)" font-size="54.6" text-anchor="end">10</text>
<text transform="translate(181.5,1845.6) scale(1,1.045)" font-size="54.6" text-anchor="end">20</text>
<text transform="translate(181.5,1722.4) scale(1,1.045)" font-size="54.6" text-anchor="end">30</text>
<text transform="translate(211.1,2147.7) scale(1,1.045)" font-size="54.6" text-anchor="middle">2</text>
<text transform="translate(324.4,2147.7) scale(1,1.045)" font-size="54.6" text-anchor="middle">3</text>
<text transform="translate(437.7,2147.7) scale(1,1.045)" font-size="54.6" text-anchor="middle">4</text>
<text transform="translate(551,2147.7) scale(1,1.045)" font-size="54.6" text-anchor="middle">5</text>
<text transform="translate(664.3,2147.7) scale(1,1.045)" font-size="54.6" text-anchor="middle">6</text>
<text transform="translate(777.6,2147.7) scale(1,1.045)" font-size="54.6" text-anchor="middle">7</text>
<text transform="translate(890.9,2147.7) scale(1,1.045)" font-size="54.6" text-anchor="middle">8</text>
<text transform="translate(1010,2148) scale(1,1.045)" font-size="54.6" text-anchor="middle">4</text>
<text transform="translate(1152.3,2148) scale(1,1.045)" font-size="54.6" text-anchor="middle">5</text>
<text transform="translate(1294.6,2148) scale(1,1.045)" font-size="54.6" text-anchor="middle">6</text>
<text transform="translate(1403.6,60.5) scale(1,1.045)" font-size="54.6">0</text>
<text transform="translate(1403.6,286.3) scale(1,1.045)" font-size="54.6">2</text>
<text transform="translate(1403.6,512.1) scale(1,1.045)" font-size="54.6">4</text>
<text transform="translate(1403.6,737.9) scale(1,1.045)" font-size="54.6">6</text>
<text transform="translate(1403.6,963.7) scale(1,1.045)" font-size="54.6">8</text>
<text transform="translate(1403.6,1189.5) scale(1,1.045)" font-size="54.6">10</text>
<text transform="translate(1403.6,1415.3) scale(1,1.045)" font-size="54.6">12</text>
<text transform="translate(1403.6,1641.1) scale(1,1.045)" font-size="54.6">14</text>
<text transform="translate(1403.6,1866.9) scale(1,1.045)" font-size="54.6">16</text>
<text transform="translate(1403.6,2092.7) scale(1,1.045)" font-size="54.6">18</text>
<text transform="translate(228.8,2212) scale(1,1.02)" font-size="61.3">Observation Angle (deg)</text>
<text transform="translate(943.4,2218) scale(1,1.02)" font-size="61.3">Mean Angle (deg)</text>
<text transform="translate(88.4,1234.2) rotate(-90) scale(1,1.02)" font-size="67.5">Intensity (10<tspan font-size="38" dy="-37.7"> 2</tspan><tspan dy="37.7"> Counts/nC)</tspan></text>
<text transform="translate(1553.5,1260) rotate(-90) scale(1,1.02)" font-size="67.5">Q<tspan font-size="38" dy="24.5" dx="3.5">in</tspan><tspan dy="-24.5" dx="11">, Inserted Charge (fC)</tspan></text>
<line x1="1153.5" y1="41" x2="1153.5" y2="2075" stroke="#000" stroke-width="4.1" stroke-dasharray="19.3 14.515"/>
<rect x="1138" y="325" width="64" height="78" fill="#fff"/>
<rect x="1138" y="600" width="64" height="78" fill="#fff"/>
<path d="M1250.1,53.9C1249.9,58.5 1246.3,72.6 1249,81.5C1251.7,90.4 1260.7,98.5 1266.2,107.2C1271.7,115.9 1279,126.2 1282.1,133.8C1285.1,141.4 1285.2,146.6 1284.5,152.7C1283.8,158.8 1282,165.1 1277.6,170.6C1273.2,176.1 1271.1,179.1 1258.2,185.6C1245.3,192.1 1219.6,200.8 1200.4,209.5C1181.2,218.2 1161.7,229.8 1142.9,238C1124.1,246.2 1099.1,253.7 1087.6,258.9C1076.1,264.1 1077.3,264.6 1074.1,269.4C1070.8,274.1 1073.8,279.2 1068.1,287.4C1062.4,295.6 1050.4,309.2 1039.7,318.8C1029,328.4 1010.8,339.2 1003.8,345.1C996.8,351 999.5,349.4 997.8,353.9C996,358.4 992.8,365.9 993.3,371.9C993.8,377.9 993.1,382.4 1000.8,389.9C1008.5,397.4 1025.4,409.1 1039.7,416.8C1054,424.5 1067.8,430 1086.7,436.2C1105.7,442.4 1132.2,448.9 1153.4,454.2C1174.7,459.4 1193.2,460.5 1214.2,467.7C1235.2,474.9 1261.8,486.6 1279.1,497.6C1296.4,508.6 1308.5,522.5 1318,533.5C1327.5,544.5 1331.6,552.9 1336,563.4C1340.4,573.9 1343.7,585.6 1344.4,596.5C1345.1,607.4 1343.2,616.7 1340.4,628.8C1337.7,640.9 1333.9,653.5 1327.9,669.2C1321.9,684.9 1314.9,704.6 1304.5,723.1C1294.1,741.6 1277.6,761.5 1265.6,780C1253.6,798.5 1241.7,815.8 1232.7,833.8C1223.7,851.8 1217.9,868.7 1211.8,887.7C1205.7,906.7 1203.9,928.2 1196.2,947.7C1188.5,967.2 1172.7,985.9 1165.4,1004.5C1158.1,1023.1 1156.5,1041.1 1152.5,1059.6C1148.5,1078.1 1144.4,1097.2 1141.4,1115.3C1138.4,1133.4 1135.7,1150.2 1134.6,1168.2C1133.5,1186.2 1135,1204.4 1134.9,1223.4C1134.8,1242.4 1133.3,1263 1134,1282.1C1134.7,1301.2 1138.5,1319.5 1139,1338C1139.5,1356.5 1137.6,1372.2 1137,1393.4C1136.4,1414.6 1135.4,1444.3 1135.5,1465.3C1135.6,1486.3 1136.8,1501.6 1137.6,1519.3C1138.3,1537 1139.8,1553.6 1140,1571.3C1140.2,1589 1138.4,1607.5 1138.5,1625.2C1138.6,1642.9 1140.2,1660.1 1140.8,1677.6C1141.4,1695.1 1141.7,1711.7 1142.3,1730.2C1142.9,1748.7 1143.8,1768.3 1144.6,1788.8C1145.3,1809.3 1146,1834 1146.8,1853.4C1147.6,1872.8 1149.3,1888 1149.5,1905.1C1149.7,1922.2 1148,1938.5 1148,1956C1148,1973.5 1149.2,2000.9 1149.5,2009.9" fill="none" stroke="#000" stroke-width="6.1" stroke-linejoin="round" stroke-linecap="round"/>
<g fill="#000" clip-path="url(#cpr)">
<circle cx="1153.5" cy="43" r="10.0"/>
<circle cx="1250.1" cy="53.9" r="10.0"/>
<circle cx="1245.6" cy="81.5" r="10.0"/>
<circle cx="1266.2" cy="107.2" r="10.0"/>
<circle cx="1284.2" cy="133.8" r="10.0"/>
<circle cx="1286.6" cy="157.8" r="10.0"/>
<circle cx="1266.5" cy="183.2" r="10.0"/>
<circle cx="1200.4" cy="209.5" r="10.0"/>
<circle cx="1142.9" cy="238.9" r="10.0"/>
<circle cx="1065.7" cy="264.3" r="10.0"/>
<circle cx="1069.6" cy="293.3" r="10.0"/>
<circle cx="1039.7" cy="318.8" r="10.0"/>
<circle cx="1003.8" cy="345.1" r="10.0"/>
<circle cx="986.4" cy="371.9" r="10.0"/>
<circle cx="1000.8" cy="400.3" r="10.0"/>
<circle cx="1086.7" cy="439.2" r="10.0"/>
<circle cx="1214.2" cy="469.2" r="10.0"/>
<circle cx="1279.1" cy="494.6" r="10.0"/>
<circle cx="1341" cy="550" r="10.0"/>
<circle cx="1349.4" cy="611.4" r="10.0"/>
<circle cx="1327.9" cy="669.2" r="10.0"/>
<circle cx="1304.5" cy="725.2" r="10.0"/>
<circle cx="1265.6" cy="780" r="10.0"/>
<circle cx="1232.7" cy="833.8" r="10.0"/>
<circle cx="1209.5" cy="888.8" r="10.0"/>
<circle cx="1196.2" cy="947.7" r="10.0"/>
<circle cx="1165.4" cy="1004.5" r="10.0"/>
<circle cx="1152.5" cy="1059.6" r="10.0"/>
<circle cx="1141.4" cy="1115.3" r="10.0"/>
<circle cx="1134.6" cy="1168.2" r="10.0"/>
<circle cx="1134.9" cy="1223.4" r="10.0"/>
<circle cx="1134" cy="1282.1" r="10.0"/>
<circle cx="1139" cy="1338" r="10.0"/>
<circle cx="1137" cy="1393.4" r="10.0"/>
<circle cx="1135.5" cy="1465.3" r="10.0"/>
<circle cx="1137.6" cy="1519.3" r="10.0"/>
<circle cx="1140" cy="1571.3" r="10.0"/>
<circle cx="1138.5" cy="1625.2" r="10.0"/>
<circle cx="1140.8" cy="1677.6" r="10.0"/>
<circle cx="1142.3" cy="1730.2" r="10.0"/>
<circle cx="1144.6" cy="1788.8" r="10.0"/>
<circle cx="1146.8" cy="1853.4" r="10.0"/>
<circle cx="1149.5" cy="1905.1" r="10.0"/>
<circle cx="1148" cy="1956" r="10.0"/>
<circle cx="1149.5" cy="2009.9" r="10.0"/>
</g>
<g stroke="#000" stroke-width="5.0">
<line x1="925" y1="99.2" x2="941.9" y2="99.2"/>
<line x1="1381" y1="99.2" x2="1364.1" y2="99.2"/>
<line x1="925" y1="155.6" x2="941.9" y2="155.6"/>
<line x1="1381" y1="155.6" x2="1364.1" y2="155.6"/>
<line x1="925" y1="212.1" x2="941.9" y2="212.1"/>
<line x1="1381" y1="212.1" x2="1364.1" y2="212.1"/>
<line x1="925" y1="268.5" x2="955" y2="268.5"/>
<line x1="1381" y1="268.5" x2="1351" y2="268.5"/>
<line x1="925" y1="324.9" x2="941.9" y2="324.9"/>
<line x1="1381" y1="324.9" x2="1364.1" y2="324.9"/>
<line x1="925" y1="381.4" x2="941.9" y2="381.4"/>
<line x1="1381" y1="381.4" x2="1364.1" y2="381.4"/>
<line x1="925" y1="437.9" x2="941.9" y2="437.9"/>
<line x1="1381" y1="437.9" x2="1364.1" y2="437.9"/>
<line x1="925" y1="494.3" x2="955" y2="494.3"/>
<line x1="1381" y1="494.3" x2="1351" y2="494.3"/>
<line x1="925" y1="550.8" x2="941.9" y2="550.8"/>
<line x1="1381" y1="550.8" x2="1364.1" y2="550.8"/>
<line x1="925" y1="607.2" x2="941.9" y2="607.2"/>
<line x1="1381" y1="607.2" x2="1364.1" y2="607.2"/>
<line x1="925" y1="663.7" x2="941.9" y2="663.7"/>
<line x1="1381" y1="663.7" x2="1364.1" y2="663.7"/>
<line x1="925" y1="720.1" x2="955" y2="720.1"/>
<line x1="1381" y1="720.1" x2="1351" y2="720.1"/>
<line x1="925" y1="776.6" x2="941.9" y2="776.6"/>
<line x1="1381" y1="776.6" x2="1364.1" y2="776.6"/>
<line x1="925" y1="833" x2="941.9" y2="833"/>
<line x1="1381" y1="833" x2="1364.1" y2="833"/>
<line x1="925" y1="889.5" x2="941.9" y2="889.5"/>
<line x1="1381" y1="889.5" x2="1364.1" y2="889.5"/>
<line x1="925" y1="945.9" x2="955" y2="945.9"/>
<line x1="1381" y1="945.9" x2="1351" y2="945.9"/>
<line x1="925" y1="1002.4" x2="941.9" y2="1002.4"/>
<line x1="1381" y1="1002.4" x2="1364.1" y2="1002.4"/>
<line x1="925" y1="1058.8" x2="941.9" y2="1058.8"/>
<line x1="1381" y1="1058.8" x2="1364.1" y2="1058.8"/>
<line x1="925" y1="1115.2" x2="941.9" y2="1115.2"/>
<line x1="1381" y1="1115.2" x2="1364.1" y2="1115.2"/>
<line x1="925" y1="1171.7" x2="955" y2="1171.7"/>
<line x1="1381" y1="1171.7" x2="1351" y2="1171.7"/>
<line x1="925" y1="1228.2" x2="941.9" y2="1228.2"/>
<line x1="1381" y1="1228.2" x2="1364.1" y2="1228.2"/>
<line x1="925" y1="1284.6" x2="941.9" y2="1284.6"/>
<line x1="1381" y1="1284.6" x2="1364.1" y2="1284.6"/>
<line x1="925" y1="1341.1" x2="941.9" y2="1341.1"/>
<line x1="1381" y1="1341.1" x2="1364.1" y2="1341.1"/>
<line x1="925" y1="1397.5" x2="955" y2="1397.5"/>
<line x1="1381" y1="1397.5" x2="1351" y2="1397.5"/>
<line x1="925" y1="1454" x2="941.9" y2="1454"/>
<line x1="1381" y1="1454" x2="1364.1" y2="1454"/>
<line x1="925" y1="1510.4" x2="941.9" y2="1510.4"/>
<line x1="1381" y1="1510.4" x2="1364.1" y2="1510.4"/>
<line x1="925" y1="1566.9" x2="941.9" y2="1566.9"/>
<line x1="1381" y1="1566.9" x2="1364.1" y2="1566.9"/>
<line x1="925" y1="1623.3" x2="955" y2="1623.3"/>
<line x1="1381" y1="1623.3" x2="1351" y2="1623.3"/>
<line x1="925" y1="1679.8" x2="941.9" y2="1679.8"/>
<line x1="1381" y1="1679.8" x2="1364.1" y2="1679.8"/>
<line x1="925" y1="1736.2" x2="941.9" y2="1736.2"/>
<line x1="1381" y1="1736.2" x2="1364.1" y2="1736.2"/>
<line x1="925" y1="1792.7" x2="941.9" y2="1792.7"/>
<line x1="1381" y1="1792.7" x2="1364.1" y2="1792.7"/>
<line x1="925" y1="1849.1" x2="955" y2="1849.1"/>
<line x1="1381" y1="1849.1" x2="1351" y2="1849.1"/>
<line x1="925" y1="1905.6" x2="941.9" y2="1905.6"/>
<line x1="1381" y1="1905.6" x2="1364.1" y2="1905.6"/>
<line x1="925" y1="1962" x2="941.9" y2="1962"/>
<line x1="1381" y1="1962" x2="1364.1" y2="1962"/>
<line x1="925" y1="2018.5" x2="941.9" y2="2018.5"/>
<line x1="1381" y1="2018.5" x2="1364.1" y2="2018.5"/>
<line x1="940" y1="42.7" x2="940" y2="59.6"/>
<line x1="940" y1="2075" x2="940" y2="2058.1"/>
<line x1="1011.2" y1="42.7" x2="1011.2" y2="72.7"/>
<line x1="1011.2" y1="2075" x2="1011.2" y2="2045"/>
<line x1="1082.3" y1="42.7" x2="1082.3" y2="59.6"/>
<line x1="1082.3" y1="2075" x2="1082.3" y2="2058.1"/>
<line x1="1153.5" y1="42.7" x2="1153.5" y2="72.7"/>
<line x1="1153.5" y1="2075" x2="1153.5" y2="2045"/>
<line x1="1224.7" y1="42.7" x2="1224.7" y2="59.6"/>
<line x1="1224.7" y1="2075" x2="1224.7" y2="2058.1"/>
<line x1="1295.8" y1="42.7" x2="1295.8" y2="72.7"/>
<line x1="1295.8" y1="2075" x2="1295.8" y2="2045"/>
<line x1="1367" y1="42.7" x2="1367" y2="59.6"/>
<line x1="1367" y1="2075" x2="1367" y2="2058.1"/>
</g>
<g stroke="#000" stroke-linecap="square"><line x1="925" y1="42.7" x2="925" y2="2075" stroke-width="5.7"/><line x1="1381" y1="42.7" x2="1381" y2="2075" stroke-width="5.7"/><line x1="925" y1="42.7" x2="1381" y2="42.7" stroke-width="5.2"/><line x1="925" y1="2075" x2="1381" y2="2075" stroke-width="5.2"/></g>
<g stroke="#000" stroke-width="3.8" fill="none">
<line x1="1117.5" y1="110.6" x2="1215" y2="110.6"/>
<line x1="1125" y1="371.9" x2="1040" y2="371.9"/>
<line x1="1037.3" y1="1225.8" x2="1085" y2="1225.8"/>
<line x1="1099" y1="537.6" x2="1275" y2="537.6" stroke-width="3.8" stroke-dasharray="10.4 5.2" stroke-dashoffset="5.4"/>
<path d="M1210.4,623.1 Q1240,592 1276,563"/>
<path d="M1292.6,1930 C1280,1975 1245,2008 1200,2010"/>
</g>
<polygon points="1247.7,110.6 1203.2,98.4 1212.7,110.6 1203.2,122.8" fill="#000" stroke="#000" stroke-width="2.4" stroke-linejoin="round"/>
<polygon points="1006.8,371.9 1051.3,384.1 1041.8,371.9 1051.3,359.7" fill="#000" stroke="#000" stroke-width="2.4" stroke-linejoin="round"/>
<polygon points="1118.4,1225.8 1073.9,1213.6 1083.4,1225.8 1073.9,1238" fill="#000" stroke="#000" stroke-width="2.4" stroke-linejoin="round"/>
<polygon points="1313.2,537.6 1261.7,525 1273.7,537.6 1261.7,550.2" fill="#000" stroke="#000" stroke-width="2.4" stroke-linejoin="round"/>
<polygon points="1312.4,553 1259.4,552.3 1274,561.9 1265.1,576.9" fill="#000" stroke="#000" stroke-width="2.4" stroke-linejoin="round"/>
<polygon points="1165.4,2009.9 1209.8,2022.5 1200.4,2010.2 1210,1998.1" fill="#000" stroke="#000" stroke-width="2.4" stroke-linejoin="round"/>
<text transform="translate(1041.2,119.3)" font-size="54.8">(a)</text>
<text transform="translate(1135.9,380.4)" font-size="54.8">(b)</text>
<text transform="translate(1137.2,654.4)" font-size="54.8">(c)</text>
<text transform="translate(961.6,1241.8)" font-size="54.8">(d)</text>
<text transform="translate(1265.2,1909.8)" font-size="54.8">(e)</text>
<text transform="translate(993.8,549.5) scale(1,1.045)" font-size="69.5">Q<tspan font-size="40" dy="25.4" dx="-1.3">sc</tspan></text>
</svg></body></html>
